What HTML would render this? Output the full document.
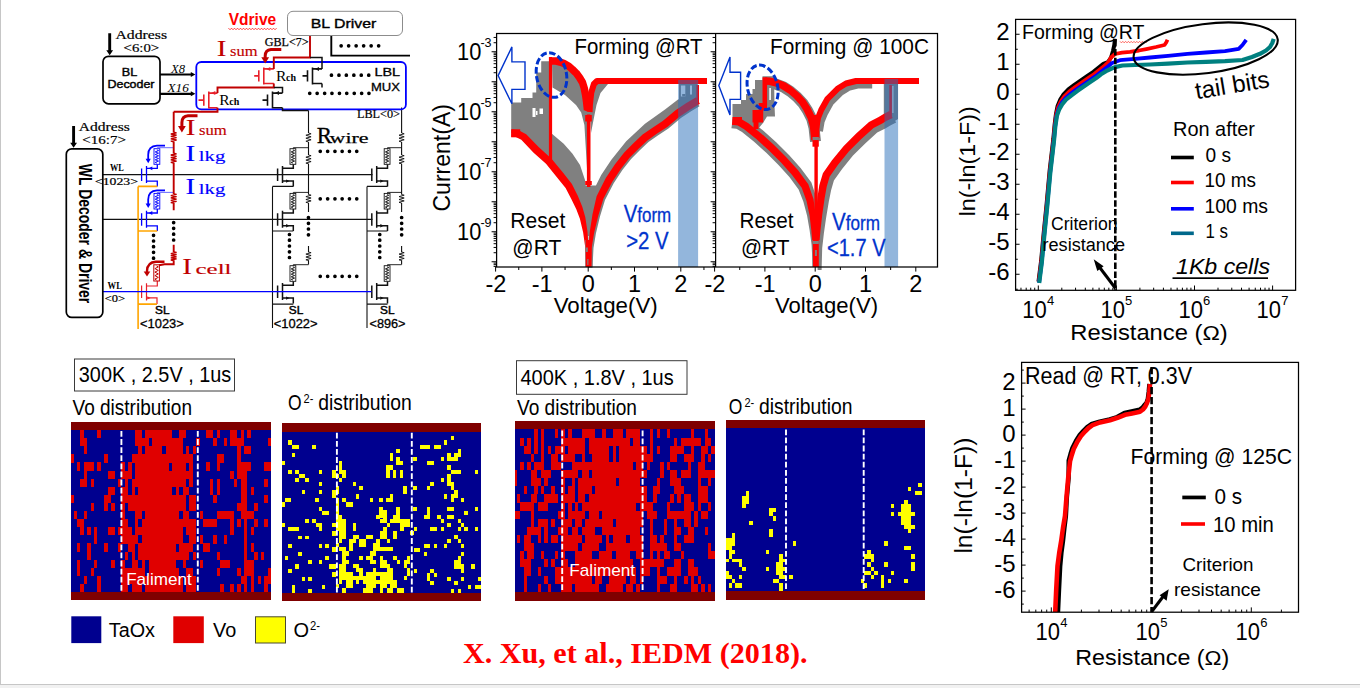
<!DOCTYPE html>
<html lang="en"><head><meta charset="utf-8"><title>RRAM forming - X. Xu et al., IEDM 2018</title>
<style>
html,body{margin:0;padding:0;background:#fff;}
body{width:1360px;height:688px;overflow:hidden;position:relative;}
svg{position:absolute;left:0;top:0;display:block;}
text{font-family:"Liberation Sans", Arial, sans-serif;}
text.sf{font-family:"Liberation Serif", "Times New Roman", serif;}
</style></head><body>
<svg width="1360" height="688" viewBox="0 0 1360 688">
<rect x="0" y="0" width="1360" height="688" fill="#fff"/>
<rect x="0" y="685" width="1360" height="3" fill="#f1f1f1"/>
<rect x="0" y="684" width="1360" height="1" fill="#c6c6c6"/>
<rect x="0" y="0" width="1" height="685" fill="#c6c6c6"/>
<g id="circuit" fill="none" stroke-linecap="butt" stroke-linejoin="miter">
<path d="M103,174.6H372.5M103,219.3H372.5" stroke="#111" stroke-width="1.25"/>
<path d="M141.6,168.6V181.1M146.5,166.0V183.1M146.5,168.29999999999998H157.3V164.29999999999998M146.5,181.1H157.3V186.4" stroke="#0000ff" stroke-width="1.3"/>
<path d="M148.7,168.29999999999998l3.6,-1.9v3.8z" fill="#0000ff" stroke="none"/>
<rect x="154.0" y="148.7" width="5.8" height="15.6" stroke="#0000ff" stroke-width="0.9" fill="#fff"/>
<path d="M156.9,149.9 L158.6,150.6 L155.2,151.9 L158.6,153.2 L155.2,154.5 L158.6,155.8 L155.2,157.2 L158.6,158.5 L155.2,159.8 L158.6,161.1 L155.2,162.4 L156.9,163.1" stroke="#0000ff" stroke-width="0.9"/>
<path d="M157.3,148.7V147.7H173.7" stroke="#5a5aff" stroke-width="0.9"/>
<path d="M141.6,213.3V225.8M146.5,210.70000000000002V227.8M146.5,213.0H157.3V209.0M146.5,225.8H157.3V231.10000000000002" stroke="#0000ff" stroke-width="1.3"/>
<path d="M148.7,213.0l3.6,-1.9v3.8z" fill="#0000ff" stroke="none"/>
<rect x="154.0" y="193.4" width="5.8" height="15.6" stroke="#0000ff" stroke-width="0.9" fill="#fff"/>
<path d="M156.9,194.6 L158.6,195.3 L155.2,196.6 L158.6,197.9 L155.2,199.2 L158.6,200.5 L155.2,201.9 L158.6,203.2 L155.2,204.5 L158.6,205.8 L155.2,207.1 L156.9,207.8" stroke="#0000ff" stroke-width="0.9"/>
<path d="M157.3,193.4V192.4H173.7" stroke="#5a5aff" stroke-width="0.9"/>
<path d="M141.6,285.40000000000003V297.90000000000003M146.5,283.20000000000005V300.40000000000003M146.5,286.0H157.3V281.0M146.5,297.90000000000003H157V304.1" stroke="#e8202a" stroke-width="1.2"/>
<path d="M150.5,297.90000000000003l-3.2,-1.7v3.4z" fill="#e8202a" stroke="none"/>
<rect x="153.8" y="264.8" width="5.6" height="16.2" stroke="#c00000" stroke-width="1" fill="#fff"/>
<path d="M156.6,266.0 L158.3,266.9 L154.9,268.6 L158.3,270.4 L154.9,272.1 L158.3,273.9 L154.9,275.6 L158.3,277.4 L154.9,279.1 L156.6,280.0" stroke="#c00000" stroke-width="1"/>
<path d="M277.6,168.6V181.1M282.5,166.0V183.1M282.5,168.29999999999998H293.3V164.29999999999998M282.5,181.1H293.3V186.4" stroke="#111" stroke-width="1.5"/>
<rect x="290.0" y="148.7" width="5.8" height="15.6" stroke="#111" stroke-width="0.9" fill="#fff"/>
<path d="M292.9,149.9 L294.6,150.6 L291.2,151.9 L294.6,153.2 L291.2,154.5 L294.6,155.8 L291.2,157.2 L294.6,158.5 L291.2,159.8 L294.6,161.1 L291.2,162.4 L292.9,163.1" stroke="#111" stroke-width="0.9"/>
<path d="M293.3,148.7V147.7H308.5" stroke="#111" stroke-width="0.9"/>
<path d="M289.5,181.1l-3.4,-1.7v3.4z" fill="#111" stroke="none"/>
<path d="M277.6,213.3V225.8M282.5,210.70000000000002V227.8M282.5,213.0H293.3V209.0M282.5,225.8H293.3V231.10000000000002" stroke="#111" stroke-width="1.5"/>
<rect x="290.0" y="193.4" width="5.8" height="15.6" stroke="#111" stroke-width="0.9" fill="#fff"/>
<path d="M292.9,194.6 L294.6,195.3 L291.2,196.6 L294.6,197.9 L291.2,199.2 L294.6,200.5 L291.2,201.9 L294.6,203.2 L291.2,204.5 L294.6,205.8 L291.2,207.1 L292.9,207.8" stroke="#111" stroke-width="0.9"/>
<path d="M293.3,193.4V192.4H308.5" stroke="#111" stroke-width="0.9"/>
<path d="M289.5,225.8l-3.4,-1.7v3.4z" fill="#111" stroke="none"/>
<path d="M277.6,285.6V298.1M282.5,283.0V300.1M282.5,285.3H293.3V281.3M282.5,298.1H293.3V303.40000000000003" stroke="#111" stroke-width="1.5"/>
<rect x="290.0" y="265.7" width="5.8" height="15.6" stroke="#111" stroke-width="0.9" fill="#fff"/>
<path d="M292.9,266.9 L294.6,267.6 L291.2,268.9 L294.6,270.2 L291.2,271.5 L294.6,272.8 L291.2,274.2 L294.6,275.5 L291.2,276.8 L294.6,278.1 L291.2,279.4 L292.9,280.1" stroke="#111" stroke-width="0.9"/>
<path d="M293.3,265.70000000000005V264.70000000000005H308.5" stroke="#111" stroke-width="0.9"/>
<path d="M289.5,298.1l-3.4,-1.7v3.4z" fill="#111" stroke="none"/>
<path d="M371.79999999999995,168.6V181.1M376.7,166.0V183.1M376.7,168.29999999999998H387.5V164.29999999999998M376.7,181.1H387.5V186.4" stroke="#111" stroke-width="1.5"/>
<rect x="384.2" y="148.7" width="5.8" height="15.6" stroke="#111" stroke-width="0.9" fill="#fff"/>
<path d="M387.1,149.9 L388.8,150.6 L385.4,151.9 L388.8,153.2 L385.4,154.5 L388.8,155.8 L385.4,157.2 L388.8,158.5 L385.4,159.8 L388.8,161.1 L385.4,162.4 L387.1,163.1" stroke="#111" stroke-width="0.9"/>
<path d="M387.5,148.7V147.7H401.6" stroke="#111" stroke-width="0.9"/>
<path d="M383.7,181.1l-3.4,-1.7v3.4z" fill="#111" stroke="none"/>
<path d="M371.79999999999995,213.3V225.8M376.7,210.70000000000002V227.8M376.7,213.0H387.5V209.0M376.7,225.8H387.5V231.10000000000002" stroke="#111" stroke-width="1.5"/>
<rect x="384.2" y="193.4" width="5.8" height="15.6" stroke="#111" stroke-width="0.9" fill="#fff"/>
<path d="M387.1,194.6 L388.8,195.3 L385.4,196.6 L388.8,197.9 L385.4,199.2 L388.8,200.5 L385.4,201.9 L388.8,203.2 L385.4,204.5 L388.8,205.8 L385.4,207.1 L387.1,207.8" stroke="#111" stroke-width="0.9"/>
<path d="M387.5,193.4V192.4H401.6" stroke="#111" stroke-width="0.9"/>
<path d="M383.7,225.8l-3.4,-1.7v3.4z" fill="#111" stroke="none"/>
<path d="M371.79999999999995,285.6V298.1M376.7,283.0V300.1M376.7,285.3H387.5V281.3M376.7,298.1H387.5V303.40000000000003" stroke="#111" stroke-width="1.5"/>
<rect x="384.2" y="265.7" width="5.8" height="15.6" stroke="#111" stroke-width="0.9" fill="#fff"/>
<path d="M387.1,266.9 L388.8,267.6 L385.4,268.9 L388.8,270.2 L385.4,271.5 L388.8,272.8 L385.4,274.2 L388.8,275.5 L385.4,276.8 L388.8,278.1 L385.4,279.4 L387.1,280.1" stroke="#111" stroke-width="0.9"/>
<path d="M387.5,265.70000000000005V264.70000000000005H401.6" stroke="#111" stroke-width="0.9"/>
<path d="M383.7,298.1l-3.4,-1.7v3.4z" fill="#111" stroke="none"/>
<path d="M138.1,186.4V329M138.1,186.4H157.3M138.1,231H157.3M138.1,304.1H157" stroke="#ffa500" stroke-width="1.6"/>
<path d="M272.5,186.4V328M272.5,186.4H293.3M272.5,231H293.3M272.5,304.1H293.3M367,186.4V328M367,186.4H387.5M367,231H387.5M367,304.1H387.5" stroke="#111" stroke-width="1.1"/>
<path d="M173.7,111.8V132.5M173.7,141.5V153.5M173.7,162.8V194M173.7,203V210.3M173.7,244.8V252.3M173.7,260.3V264.2H164.5L159,265.2" stroke="#c00000" stroke-width="1.9"/>
<path d="M173.7,132.2 L176.6,132.8 L170.8,134.0 L176.6,135.2 L170.8,136.4 L176.6,137.6 L170.8,138.8 L176.6,140.0 L170.8,141.2 L173.7,141.8" stroke="#c00000" stroke-width="1.3"/>
<path d="M173.7,153.2 L176.6,153.8 L170.8,155.0 L176.6,156.3 L170.8,157.5 L176.6,158.7 L170.8,159.9 L176.6,161.2 L170.8,162.4 L173.7,163.0" stroke="#c00000" stroke-width="1.3"/>
<path d="M173.7,193.8 L176.6,194.4 L170.8,195.6 L176.6,196.7 L170.8,197.9 L176.6,199.1 L170.8,200.3 L176.6,201.4 L170.8,202.6 L173.7,203.2" stroke="#c00000" stroke-width="1.3"/>
<path d="M173.7,252.0 L176.6,252.5 L170.8,253.6 L176.6,254.7 L170.8,255.7 L176.6,256.8 L170.8,257.8 L176.6,258.9 L170.8,260.0 L173.7,260.5" stroke="#c00000" stroke-width="1.3"/>
<path d="M308.5,110.6V133M308.5,142V155M308.5,163.8V194.5M308.5,203V212M308.5,246V252.3M308.5,260.3V264.5" stroke="#111" stroke-width="1.1"/>
<path d="M308.5,133.0 L311.1,133.8 L305.9,135.2 L311.1,136.8 L305.9,138.2 L311.1,139.8 L305.9,141.2 L308.5,142.0" stroke="#111" stroke-width="0.9"/>
<path d="M308.5,155.0 L311.1,155.7 L305.9,157.2 L311.1,158.7 L305.9,160.1 L311.1,161.6 L305.9,163.1 L308.5,163.8" stroke="#111" stroke-width="0.9"/>
<path d="M308.5,194.5 L311.1,195.2 L305.9,196.6 L311.1,198.0 L305.9,199.5 L311.1,200.9 L305.9,202.3 L308.5,203.0" stroke="#111" stroke-width="0.9"/>
<path d="M308.5,252.0 L311.1,252.7 L305.9,254.1 L311.1,255.5 L305.9,257.0 L311.1,258.4 L305.9,259.8 L308.5,260.5" stroke="#111" stroke-width="0.9"/>
<path d="M401.6,107.5V133M401.6,142V155M401.6,163.8V194.5M401.6,203V212M401.6,246V252.3M401.6,260.3V264.5" stroke="#111" stroke-width="1.1"/>
<path d="M401.6,133.0 L404.2,133.8 L399.0,135.2 L404.2,136.8 L399.0,138.2 L404.2,139.8 L399.0,141.2 L401.6,142.0" stroke="#111" stroke-width="0.9"/>
<path d="M401.6,155.0 L404.2,155.7 L399.0,157.2 L404.2,158.7 L399.0,160.1 L404.2,161.6 L399.0,163.1 L401.6,163.8" stroke="#111" stroke-width="0.9"/>
<path d="M401.6,194.5 L404.2,195.2 L399.0,196.6 L404.2,198.0 L399.0,199.5 L404.2,200.9 L399.0,202.3 L401.6,203.0" stroke="#111" stroke-width="0.9"/>
<path d="M401.6,252.0 L404.2,252.7 L399.0,254.1 L404.2,255.5 L399.0,257.0 L404.2,258.4 L399.0,259.8 L401.6,260.5" stroke="#111" stroke-width="0.9"/>
<path d="M103,291.6H371.5" stroke="#0000ff" stroke-width="1.4"/>
<path d="M151.7,241.0a1.85,1.85 0 1,0 3.7,0a1.85,1.85 0 1,0 -3.7,0M151.7,246.7a1.85,1.85 0 1,0 3.7,0a1.85,1.85 0 1,0 -3.7,0M151.7,252.3a1.85,1.85 0 1,0 3.7,0a1.85,1.85 0 1,0 -3.7,0M151.7,258.2a1.85,1.85 0 1,0 3.7,0a1.85,1.85 0 1,0 -3.7,0M151.7,235.3a1.85,1.85 0 1,0 3.7,0a1.85,1.85 0 1,0 -3.7,0M171.8,222.6a1.85,1.85 0 1,0 3.7,0a1.85,1.85 0 1,0 -3.7,0M171.8,228.3a1.85,1.85 0 1,0 3.7,0a1.85,1.85 0 1,0 -3.7,0M171.8,234.2a1.85,1.85 0 1,0 3.7,0a1.85,1.85 0 1,0 -3.7,0M171.8,240.0a1.85,1.85 0 1,0 3.7,0a1.85,1.85 0 1,0 -3.7,0M287.6,234.5a1.85,1.85 0 1,0 3.7,0a1.85,1.85 0 1,0 -3.7,0M287.6,240.2a1.85,1.85 0 1,0 3.7,0a1.85,1.85 0 1,0 -3.7,0M287.6,246.0a1.85,1.85 0 1,0 3.7,0a1.85,1.85 0 1,0 -3.7,0M287.6,251.8a1.85,1.85 0 1,0 3.7,0a1.85,1.85 0 1,0 -3.7,0M287.6,257.5a1.85,1.85 0 1,0 3.7,0a1.85,1.85 0 1,0 -3.7,0M306.6,217.5a1.85,1.85 0 1,0 3.7,0a1.85,1.85 0 1,0 -3.7,0M306.6,223.3a1.85,1.85 0 1,0 3.7,0a1.85,1.85 0 1,0 -3.7,0M306.6,229.0a1.85,1.85 0 1,0 3.7,0a1.85,1.85 0 1,0 -3.7,0M306.6,234.8a1.85,1.85 0 1,0 3.7,0a1.85,1.85 0 1,0 -3.7,0M377.9,234.5a1.85,1.85 0 1,0 3.7,0a1.85,1.85 0 1,0 -3.7,0M377.9,240.2a1.85,1.85 0 1,0 3.7,0a1.85,1.85 0 1,0 -3.7,0M377.9,246.0a1.85,1.85 0 1,0 3.7,0a1.85,1.85 0 1,0 -3.7,0M377.9,251.8a1.85,1.85 0 1,0 3.7,0a1.85,1.85 0 1,0 -3.7,0M377.9,257.5a1.85,1.85 0 1,0 3.7,0a1.85,1.85 0 1,0 -3.7,0M399.8,217.5a1.85,1.85 0 1,0 3.7,0a1.85,1.85 0 1,0 -3.7,0M399.8,223.3a1.85,1.85 0 1,0 3.7,0a1.85,1.85 0 1,0 -3.7,0M399.8,229.0a1.85,1.85 0 1,0 3.7,0a1.85,1.85 0 1,0 -3.7,0M399.8,234.8a1.85,1.85 0 1,0 3.7,0a1.85,1.85 0 1,0 -3.7,0M339.3,45.8a1.85,1.85 0 1,0 3.7,0a1.85,1.85 0 1,0 -3.7,0M346.8,45.8a1.85,1.85 0 1,0 3.7,0a1.85,1.85 0 1,0 -3.7,0M354.3,45.8a1.85,1.85 0 1,0 3.7,0a1.85,1.85 0 1,0 -3.7,0M361.8,45.8a1.85,1.85 0 1,0 3.7,0a1.85,1.85 0 1,0 -3.7,0M369.3,45.8a1.85,1.85 0 1,0 3.7,0a1.85,1.85 0 1,0 -3.7,0M376.8,45.8a1.85,1.85 0 1,0 3.7,0a1.85,1.85 0 1,0 -3.7,0M329.6,75.2a1.85,1.85 0 1,0 3.7,0a1.85,1.85 0 1,0 -3.7,0M337.1,75.2a1.85,1.85 0 1,0 3.7,0a1.85,1.85 0 1,0 -3.7,0M344.5,75.2a1.85,1.85 0 1,0 3.7,0a1.85,1.85 0 1,0 -3.7,0M352.0,75.2a1.85,1.85 0 1,0 3.7,0a1.85,1.85 0 1,0 -3.7,0M359.4,75.2a1.85,1.85 0 1,0 3.7,0a1.85,1.85 0 1,0 -3.7,0M366.9,75.2a1.85,1.85 0 1,0 3.7,0a1.85,1.85 0 1,0 -3.7,0M307.9,93.3a1.85,1.85 0 1,0 3.7,0a1.85,1.85 0 1,0 -3.7,0M315.3,93.3a1.85,1.85 0 1,0 3.7,0a1.85,1.85 0 1,0 -3.7,0M322.8,93.3a1.85,1.85 0 1,0 3.7,0a1.85,1.85 0 1,0 -3.7,0M330.1,93.3a1.85,1.85 0 1,0 3.7,0a1.85,1.85 0 1,0 -3.7,0M337.6,93.3a1.85,1.85 0 1,0 3.7,0a1.85,1.85 0 1,0 -3.7,0M344.9,93.3a1.85,1.85 0 1,0 3.7,0a1.85,1.85 0 1,0 -3.7,0M352.4,93.3a1.85,1.85 0 1,0 3.7,0a1.85,1.85 0 1,0 -3.7,0M359.8,93.3a1.85,1.85 0 1,0 3.7,0a1.85,1.85 0 1,0 -3.7,0M367.1,93.3a1.85,1.85 0 1,0 3.7,0a1.85,1.85 0 1,0 -3.7,0M318.4,151.3a1.85,1.85 0 1,0 3.7,0a1.85,1.85 0 1,0 -3.7,0M325.8,151.3a1.85,1.85 0 1,0 3.7,0a1.85,1.85 0 1,0 -3.7,0M333.1,151.3a1.85,1.85 0 1,0 3.7,0a1.85,1.85 0 1,0 -3.7,0M340.3,151.3a1.85,1.85 0 1,0 3.7,0a1.85,1.85 0 1,0 -3.7,0M347.6,151.3a1.85,1.85 0 1,0 3.7,0a1.85,1.85 0 1,0 -3.7,0M354.9,151.3a1.85,1.85 0 1,0 3.7,0a1.85,1.85 0 1,0 -3.7,0M318.4,198.8a1.85,1.85 0 1,0 3.7,0a1.85,1.85 0 1,0 -3.7,0M325.8,198.8a1.85,1.85 0 1,0 3.7,0a1.85,1.85 0 1,0 -3.7,0M333.1,198.8a1.85,1.85 0 1,0 3.7,0a1.85,1.85 0 1,0 -3.7,0M340.3,198.8a1.85,1.85 0 1,0 3.7,0a1.85,1.85 0 1,0 -3.7,0M347.6,198.8a1.85,1.85 0 1,0 3.7,0a1.85,1.85 0 1,0 -3.7,0M354.9,198.8a1.85,1.85 0 1,0 3.7,0a1.85,1.85 0 1,0 -3.7,0M318.4,276.3a1.85,1.85 0 1,0 3.7,0a1.85,1.85 0 1,0 -3.7,0M325.8,276.3a1.85,1.85 0 1,0 3.7,0a1.85,1.85 0 1,0 -3.7,0M333.1,276.3a1.85,1.85 0 1,0 3.7,0a1.85,1.85 0 1,0 -3.7,0M340.3,276.3a1.85,1.85 0 1,0 3.7,0a1.85,1.85 0 1,0 -3.7,0M347.6,276.3a1.85,1.85 0 1,0 3.7,0a1.85,1.85 0 1,0 -3.7,0M354.9,276.3a1.85,1.85 0 1,0 3.7,0a1.85,1.85 0 1,0 -3.7,0" fill="#000" stroke="none"/>
<rect x="196.3" y="62" width="209.6" height="47.4" rx="5" ry="5" stroke="#0000ff" stroke-width="1.8"/>
<path d="M254.2,75.9H258.8M258.8,70.30000000000001V81.5M263.8,67.4V84.4M263.8,68.9H273.8M263.8,83.5H273.8" stroke="#e8202a" stroke-width="1.6"/>
<path d="M198.5,100.1H203.8M203.8,94.5V105.69999999999999M208.8,91.6V108.6M208.8,93.1H217.5M208.8,107.69999999999999H217.5" stroke="#e8202a" stroke-width="1.6"/>
<path d="M266.3,68.9l4,-2v4z" fill="#e8202a" stroke="none"/>
<path d="M211.3,93.1l4,-2v4z" fill="#e8202a" stroke="none"/>
<path d="M302.5,75.9H307.5M307.5,70.30000000000001V81.5M312.5,67.4V84.4M312.5,68.9H322M312.5,83.5H322" stroke="#111" stroke-width="1.6"/>
<path d="M262.5,100.1H267.5M267.5,94.5V105.69999999999999M272.5,91.6V108.6M272.5,93.1H282.5M272.5,107.69999999999999H282.5" stroke="#111" stroke-width="1.6"/>
<path d="M315,68.9l4,-2v4z" fill="#111" stroke="none"/>
<path d="M275,93.1l4,-2v4z" fill="#111" stroke="none"/>
<path d="M310,35.5V57.5H273.8V68.9M273.8,83.5V87.5H217.5V93.1M217.5,107.7V111.8H173.7" stroke="#c00000" stroke-width="1.9"/>
<path d="M310,57.5H322V68.9M322,83.5V87.5M273.8,87.5H282.5V93.1M282.5,107.7V110.6H308.5" stroke="#111" stroke-width="1.5"/>
<path d="M331.3,35.5V55.6H410" stroke="#000" stroke-width="1.9"/>
<rect x="103" y="56.3" width="57" height="47.5" rx="5.5" ry="5.5" stroke="#000" stroke-width="1.7" fill="#fff"/>
<rect x="66.3" y="148.8" width="36.5" height="168.6" rx="5.5" ry="5.5" stroke="#000" stroke-width="1.7" fill="#fff"/>
<rect x="287.5" y="11.3" width="115" height="24.2" rx="5.5" ry="5.5" stroke="#8c8c8c" stroke-width="1" fill="#fff"/>
<path d="M109.7,33.3V51M73.6,126V143.5" stroke="#000" stroke-width="2.9"/>
<path d="M106.3,50.2h6.8l-3.4,5zM70.2,142.7h6.8l-3.4,5z" fill="#000" stroke="none"/>
<path d="M160,74.5H191.5M160,93.8H191.5" stroke="#000" stroke-width="2.2"/>
<path d="M190.8,72l4.6,2.5l-4.6,2.5zM190.8,91.3l4.6,2.5l-4.6,2.5z" fill="#000" stroke="none"/>
<path d="M281.3,49.5H271Q265.3,49.8 265.2,56V58.5" stroke="#c00000" stroke-width="3"/>
<path d="M261.3,57.3h7.8l-3.9,6.2z" fill="#c00000" stroke="none"/>
<path d="M197.5,115.7H188Q182,116 181.9,122.5V127" stroke="#c00000" stroke-width="3"/>
<path d="M178,126h7.8l-3.9,6.5z" fill="#c00000" stroke="none"/>
<path d="M164.5,261.7H156Q147.2,262.2 147,271V272.5" stroke="#c00000" stroke-width="2.4"/>
<path d="M143.7,271.5h6.6l-3.3,5z" fill="#c00000" stroke="none"/>
<path d="M165,145.7H157Q148.3,146.2 148.2,154.7V159.7" stroke="#0000ff" stroke-width="1.8"/>
<path d="M145.6,158.7h5.2l-2.6,4.6z" fill="#0000ff" stroke="none"/>
<path d="M165,190.4H157Q148.3,190.9 148.2,199.4V204.4" stroke="#0000ff" stroke-width="1.8"/>
<path d="M145.6,203.4h5.2l-2.6,4.6z" fill="#0000ff" stroke="none"/>
</g>
<text x="228.7" y="25" font-size="16" fill="#ff0000" font-weight="bold" textLength="47.5" lengthAdjust="spacingAndGlyphs">Vdrive</text>
<path d="M228.5,28.2 l1.5,1.5 l1.5,-1.5 l1.5,1.5 l1.5,-1.5 l1.5,1.5 l1.5,-1.5 l1.5,1.5 l1.5,-1.5 l1.5,1.5 l1.5,-1.5 l1.5,1.5 l1.5,-1.5 l1.5,1.5 l1.5,-1.5 l1.5,1.5 l1.5,-1.5 l1.5,1.5 l1.5,-1.5 l1.5,1.5 l1.5,-1.5 l1.5,1.5 l1.5,-1.5 l1.5,1.5 l1.5,-1.5 l1.5,1.5 l1.5,-1.5 l1.5,1.5 l1.5,-1.5 l1.5,1.5 l1.5,-1.5 l1.5,1.5 l1.5,-1.5" fill="none" stroke="#ff2020" stroke-width="0.9"/>
<text x="310.8" y="27.6" font-size="12.5" textLength="65.5" lengthAdjust="spacingAndGlyphs" stroke="#000" stroke-width="0.35">BL Driver</text>
<text x="115.5" y="38.8" font-size="12" class="sf" textLength="51.5" lengthAdjust="spacingAndGlyphs" stroke="#000" stroke-width="0.2">Address</text>
<text x="123.6" y="52" font-size="13" class="sf" textLength="35.6" lengthAdjust="spacingAndGlyphs" stroke="#000" stroke-width="0.2">&lt;6:0&gt;</text>
<text x="129.6" y="75.6" font-size="11" text-anchor="middle" textLength="15.5" lengthAdjust="spacingAndGlyphs" stroke="#000" stroke-width="0.4">BL</text>
<text x="131" y="87.6" font-size="11" text-anchor="middle" textLength="47" lengthAdjust="spacingAndGlyphs" stroke="#000" stroke-width="0.4">Decoder</text>
<text x="171" y="73" font-size="11.5" class="sf" font-style="italic" textLength="14" lengthAdjust="spacingAndGlyphs">X8</text>
<text x="167.5" y="92" font-size="11.5" class="sf" font-style="italic" textLength="21.3" lengthAdjust="spacingAndGlyphs">X16</text>
<text x="264.8" y="45.6" font-size="12.5" class="sf" textLength="43.8" lengthAdjust="spacingAndGlyphs" stroke="#000" stroke-width="0.25">GBL&lt;7&gt;</text>
<text x="357" y="117.6" font-size="11.5" class="sf" textLength="43" lengthAdjust="spacingAndGlyphs" stroke="#000" stroke-width="0.2">LBL&lt;0&gt;</text>
<text x="374.4" y="75.7" font-size="11.5" textLength="25.6" lengthAdjust="spacingAndGlyphs" stroke="#000" stroke-width="0.3">LBL</text>
<text x="371" y="90.6" font-size="11.5" textLength="29" lengthAdjust="spacingAndGlyphs" stroke="#000" stroke-width="0.3">MUX</text>
<text x="276" y="80.8" class="sf" font-size="15.5">R<tspan font-size="10" font-weight="bold" dx="-0.4">ch</tspan></text>
<text x="219.3" y="104.8" class="sf" font-size="15.5">R<tspan font-size="10" font-weight="bold" dx="-0.4">ch</tspan></text>
<text fill="#c00000" class="sf"><tspan x="216.6" y="56.3" font-size="23.5" textLength="10.2" lengthAdjust="spacingAndGlyphs">I</tspan><tspan x="230.1" y="56.3" font-size="15.5" textLength="27.5" lengthAdjust="spacingAndGlyphs" stroke="#c00000" stroke-width="0.15">sum</tspan></text>
<text fill="#c00000" class="sf"><tspan x="185.5" y="134.7" font-size="23.5" textLength="10.2" lengthAdjust="spacingAndGlyphs">I</tspan><tspan x="199.0" y="134.7" font-size="15.5" textLength="27.8" lengthAdjust="spacingAndGlyphs" stroke="#c00000" stroke-width="0.15">sum</tspan></text>
<text fill="#0000ff" class="sf"><tspan x="185.3" y="160.5" font-size="23.5" textLength="10.2" lengthAdjust="spacingAndGlyphs">I</tspan><tspan x="198.8" y="160.5" font-size="15.5" textLength="26.5" lengthAdjust="spacingAndGlyphs" stroke="#0000ff" stroke-width="0.15">lkg</tspan></text>
<text fill="#0000ff" class="sf"><tspan x="185.3" y="194" font-size="23.5" textLength="10.2" lengthAdjust="spacingAndGlyphs">I</tspan><tspan x="198.8" y="194" font-size="15.5" textLength="26.5" lengthAdjust="spacingAndGlyphs" stroke="#0000ff" stroke-width="0.15">lkg</tspan></text>
<text fill="#c00000" class="sf"><tspan x="182" y="273.5" font-size="23.5" textLength="10.2" lengthAdjust="spacingAndGlyphs">I</tspan><tspan x="195.5" y="273.5" font-size="15.5" textLength="36" lengthAdjust="spacingAndGlyphs" stroke="#c00000" stroke-width="0.15">cell</tspan></text>
<text class="sf"><tspan x="316.8" y="143" font-size="23" stroke="#000" stroke-width="0.3">R</tspan><tspan x="329.6" y="143" font-size="15" textLength="39" lengthAdjust="spacingAndGlyphs" stroke="#000" stroke-width="0.25">wire</tspan></text>
<text x="78.8" y="130.5" font-size="12" class="sf" textLength="51" lengthAdjust="spacingAndGlyphs" stroke="#000" stroke-width="0.2">Address</text>
<text x="82.3" y="143.6" font-size="13" class="sf" textLength="43.6" lengthAdjust="spacingAndGlyphs" stroke="#000" stroke-width="0.2">&lt;16:7&gt;</text>
<text x="110" y="171.3" font-size="11" class="sf" font-weight="bold" textLength="13.8" lengthAdjust="spacingAndGlyphs">WL</text>
<text x="95" y="185" font-size="11" class="sf" textLength="43" lengthAdjust="spacingAndGlyphs" stroke="#000" stroke-width="0.2">&lt;1023&gt;</text>
<text x="107.6" y="289.1" font-size="11" class="sf" font-weight="bold" textLength="14.3" lengthAdjust="spacingAndGlyphs">WL</text>
<text x="104.8" y="302.3" font-size="11" class="sf" textLength="20.3" lengthAdjust="spacingAndGlyphs" stroke="#000" stroke-width="0.2">&lt;0&gt;</text>
<text x="79.3" y="163.8" font-size="17.5" font-weight="bold" textLength="139.5" lengthAdjust="spacingAndGlyphs" transform="rotate(90 79.3 163.8)">WL Decoder &amp; Driver</text>
<text x="155" y="314.1" font-size="11.5" textLength="14.5" lengthAdjust="spacingAndGlyphs" stroke="#000" stroke-width="0.45">SL</text>
<text x="140" y="327.7" font-size="12" textLength="43.8" lengthAdjust="spacingAndGlyphs" stroke="#000" stroke-width="0.3">&lt;1023&gt;</text>
<text x="288.8" y="314.1" font-size="11.5" textLength="14.5" lengthAdjust="spacingAndGlyphs" stroke="#000" stroke-width="0.45">SL</text>
<text x="273.8" y="327.7" font-size="12" textLength="43.8" lengthAdjust="spacingAndGlyphs" stroke="#000" stroke-width="0.3">&lt;1022&gt;</text>
<text x="380" y="314.1" font-size="11.5" textLength="14.5" lengthAdjust="spacingAndGlyphs" stroke="#000" stroke-width="0.45">SL</text>
<text x="369.5" y="327.7" font-size="12" textLength="36" lengthAdjust="spacingAndGlyphs" stroke="#000" stroke-width="0.3">&lt;896&gt;</text>
<g id="iv">
<g stroke-linejoin="round" stroke-linecap="butt">
<path d="M511.2,133.0 L511.2,102.5 L521.2,102.5 L521.2,98.0 L532.5,98.0 L532.5,92.5 L536.2,92.5 L536.2,72.5 L541.2,72.5 L541.2,61.2 L550.0,61.2 L550.0,161.0 L536.2,148.0 L523.7,136.0 Z" fill="#808080" />
<rect x="532.5" y="108" width="3" height="9" fill="#fff"/>
<rect x="539.5" y="108.5" width="3.5" height="5.5" fill="#fff"/>
<rect x="536" y="111" width="1.5" height="4" fill="#fff"/>
<path d="M550.6,61.0 L556.0,61.0 L560.0,62.0 L564.0,63.5 L568.8,66.2 L572.5,69.5 L576.2,73.1 L579.5,77.5 L582.5,82.5 L584.2,88.0 L585.6,95.0 L586.6,102.0 L587.5,110.0 L588.0,185.0 L585.6,145.0 L584.4,125.0 L581.2,112.5 L576.0,105.0 L565.0,95.0 L552.5,87.5 L552.0,61.0 Z" fill="#808080" />
<path d="M551.9,133.7 L563.7,143.7 L572.5,153.7 L580.0,165.0 L585.0,180.0 L587.0,200.0 L588.5,245.0 L586.0,235.0 L580.0,208.0 L568.7,186.0 L560.0,175.0 L551.9,161.0 Z" fill="#808080" />
<path d="M589.0,245.0 L589.3,240.0 L590.5,215.0 L593.0,200.0 L596.2,185.0 L601.2,175.0 L611.2,160.0 L626.2,141.2 L645.0,123.7 L665.0,109.4 L678.0,99.5 L697.0,94.0 L698.0,100.5 L688.0,106.5 L677.5,113.5 L665.0,124.0 L655.0,130.5 L645.0,137.5 L636.0,146.0 L627.0,155.0 L618.0,166.5 L609.0,180.0 L600.0,197.5 L595.4,215.0 L592.0,232.0 L590.2,247.0 L589.8,267.0 Z" fill="#808080" />
<path d="M592.5,267.8 L593.5,248.0 L595.9,233.4 L599.9,216.7 L605.0,200.0 L613.7,183.2 L622.4,170.1 L631.1,159.0 L639.8,150.2 L648.5,142.0 L658.2,135.3 L668.4,128.6 L680.9,118.1 L691.1,111.3 L699.5,106.2 L694.5,98.0 L685.9,103.3 L675.1,110.5 L662.6,121.0 L652.8,127.3 L642.5,134.6 L633.2,143.4 L623.9,152.6 L614.6,164.5 L605.3,178.4 L596.0,196.6 L591.9,214.9 L589.1,232.2 L587.9,247.6 L588.1,267.8 Z" fill="#808080" />
<path d="M594.0,84.0 L608.0,84.0 L600.5,93.0 L596.5,105.0 L593.5,120.0 L591.0,133.0 L590.0,110.0 L591.5,95.0 Z" fill="#808080" />
<path d="M679.0,84.0 L697.5,84.0 L697.5,101.0 L679.0,99.0 Z" fill="#808080" />
<rect x="680.9" y="85.5" width="4.4" height="11" fill="#fff"/>
<rect x="682.2" y="94" width="3.1" height="2.5" fill="#808080"/>
<rect x="690" y="85.5" width="2" height="9" fill="#fff"/>
<path d="M572.0,185.5 L603.0,185.5 L594.0,215.0 L591.0,236.0 L586.0,236.0 L583.0,215.0 Z" fill="#808080" />
<path d="M511.2,136.7 L515.8,137.1 L521.3,139.8 L533.6,152.7 L546.0,163.8 L557.1,177.4 L565.6,188.0 L571.3,199.1 L576.3,209.2 L579.9,218.7 L583.1,232.3 L585.2,247.1 L585.7,267.0 L588.5,267.0 L588.4,246.9 L587.5,231.7 L585.3,217.3 L582.3,206.8 L577.9,195.9 L571.9,184.0 L562.9,172.6 L551.5,158.7 L538.9,147.3 L526.2,134.2 L518.2,129.9 L511.8,129.3 Z" fill="#ff0000" />
<rect x="511.2" y="129.3" width="9" height="8" fill="#ff0000"/>
<rect x="548.9" y="57" width="3.2" height="104" fill="#ff0000"/>
<path d="M550.6,61.0 L556.0,61.0 L560.0,62.0 L564.0,63.5 L568.8,66.2 L572.5,69.5 L576.2,73.1 L579.5,77.5 L582.5,82.5 L584.2,88.0 L585.6,95.0 L586.6,102.0 L587.5,110.0" fill="none" stroke="#ff0000" stroke-width="7.5" />
<rect x="586.9" y="100" width="3.6" height="87" fill="#ff0000"/>
<rect x="585.2" y="100" width="6.6" height="11" fill="#ff0000"/>
<rect x="585.2" y="115" width="6.6" height="6.5" fill="#ff0000"/>
<rect x="585.2" y="181" width="6.6" height="4" fill="#ff0000"/>
<rect x="585.4" y="111" width="6" height="3.5" fill="#808080"/>
<rect x="585.3" y="240" width="7.2" height="27" fill="#808080"/>
<rect x="585.8" y="240" width="5.6" height="27" fill="#ff0000"/>
<rect x="585.8" y="247.5" width="2" height="4.5" fill="#808080"/>
<rect x="589.4" y="247.5" width="2" height="4.5" fill="#808080"/>
<rect x="587.3" y="259" width="2.2" height="6" fill="#808080"/>
<path d="M589.6,112.0 L589.9,105.0 L591.3,92.5 L593.9,84.0 L597.0,81.0 L707.0,81.0" fill="none" stroke="#ff0000" stroke-width="6" />
<path d="M591.2,267.0 L591.8,247.1 L594.2,232.4 L598.3,215.7 L603.4,198.8 L612.2,181.9 L621.0,168.7 L629.8,157.5 L638.6,148.7 L647.4,140.4 L657.1,133.6 L667.3,127.0 L679.8,116.5 L690.0,109.7 L699.9,103.7 L696.1,97.3 L686.0,103.3 L675.2,110.5 L662.7,121.0 L652.9,127.4 L642.6,134.6 L633.4,143.3 L624.2,152.5 L615.0,164.3 L605.8,178.1 L596.6,196.2 L592.5,214.3 L589.8,231.6 L588.6,246.9 L588.4,267.0 Z" fill="#ff0000" />
<rect x="696.4" y="85" width="2.6" height="19" fill="#ff0000"/>
</g>
<rect x="678.1" y="80" width="20" height="187" fill="#286eb9" fill-opacity="0.5"/>
<g stroke-linejoin="round" stroke-linecap="butt">
<path d="M732.5,121.0 L732.5,104.0 L741.0,104.0 L741.0,100.0 L746.0,100.0 L746.0,94.0 L752.5,94.0 L752.5,89.0 L755.0,89.0 L755.0,80.0 L762.5,80.0 L762.5,76.3 L774.0,76.3 L774.5,105.0 L775.0,116.5 L767.0,116.5 L763.0,123.0 L758.0,129.0 L750.0,128.0 L746.0,126.0 Z" fill="#808080" />
<path d="M765.5,82.5 L770.5,82.8 L775.5,84.0 L783.5,87.0 L790.5,91.5 L797.0,97.0 L803.0,103.5 L807.5,110.5 L811.8,119.0 L814.0,127.5 L815.5,141.5" fill="none" stroke="#808080" stroke-width="11" />
<path d="M731.4,128.2 L736.4,128.8 L742.0,132.1 L754.1,141.8 L766.3,152.8 L778.5,165.0 L789.4,177.1 L798.6,189.5 L803.4,201.7 L807.1,215.7 L809.6,230.3 L811.6,245.1 L812.7,267.0 L816.7,267.0 L817.4,244.9 L818.0,229.7 L818.1,214.3 L816.6,198.3 L811.4,182.5 L800.6,167.9 L789.0,155.0 L776.2,142.2 L763.4,130.7 L750.5,120.4 L741.6,115.2 L733.6,113.8 Z" fill="#808080" />
<path d="M818.5,131.0 L820.2,121.0 L823.5,113.0 L829.7,101.8 L839.7,91.8 L848.2,86.5 L858.2,84.0 L872.2,84.0" fill="none" stroke="#808080" stroke-width="9" />
<path d="M821.6,270.0 L822.2,248.1 L823.9,233.2 L826.0,218.4 L828.8,201.7 L831.1,190.3 L833.9,180.6 L842.1,169.0 L853.0,155.6 L865.2,143.4 L877.2,132.6 L885.3,128.5 L890.3,125.5 L896.1,122.6 L890.9,112.4 L884.7,115.5 L879.7,118.5 L870.3,123.4 L857.3,135.1 L844.5,147.9 L832.9,162.0 L823.6,175.4 L819.9,187.7 L818.2,200.3 L817.4,217.6 L817.1,232.8 L817.4,247.9 L817.6,270.0 Z" fill="#808080" />
<path d="M883.8,84H898V119L890,124L883.8,124Z" fill="#808080"/>
<rect x="892.4" y="86" width="1" height="27" fill="#fff"/>
<path d="M765.0,81.0 L770.0,81.3 L775.0,82.5 L783.0,85.5 L790.0,90.0 L796.5,95.5 L802.5,102.0 L807.0,109.0 L811.2,117.5 L813.5,126.0 L815.0,140.0" fill="none" stroke="#ff0000" stroke-width="7.5" />
<rect x="762.5" y="77.3" width="4.6" height="28" fill="#ff0000"/>
<rect x="758.7" y="103" width="8.3" height="7.5" fill="#ff0000"/>
<rect x="752.5" y="110" width="10.7" height="12.5" fill="#ff0000"/>
<rect x="753.5" y="122" width="5" height="7" fill="#ff0000"/>
<rect x="769.3" y="88" width="1.6" height="12" fill="#fff"/>
<path d="M731.9,124.7 L737.7,125.5 L744.1,129.3 L756.3,139.1 L768.7,150.2 L781.0,162.6 L792.1,174.9 L801.7,187.8 L806.5,200.9 L809.6,215.4 L811.3,230.2 L812.6,245.0 L813.3,267.0 L816.1,267.0 L816.4,245.0 L816.3,229.8 L815.6,214.6 L813.5,199.1 L808.3,184.2 L797.9,170.1 L786.5,157.4 L773.8,144.8 L761.2,133.4 L748.4,123.2 L740.3,118.5 L733.1,117.3 Z" fill="#ff0000" />
<rect x="732.5" y="117" width="9.5" height="8" fill="#ff0000"/>
<path d="M816.3,128.0 L818.0,118.0 L821.2,110.0 L827.5,98.8 L837.5,88.8 L846.0,83.5 L856.0,81.0 L919.0,81.0" fill="none" stroke="#ff0000" stroke-width="6" />
<path d="M818.5,267.0 L819.2,245.0 L820.5,230.2 L822.2,215.3 L824.6,198.5 L826.7,186.8 L829.6,176.7 L838.0,164.8 L849.0,151.3 L861.3,139.0 L873.5,128.0 L881.8,123.8 L886.8,120.8 L892.7,117.9 L889.3,111.1 L883.2,114.2 L878.2,117.2 L869.0,122.0 L856.2,133.5 L843.5,146.2 L832.0,160.2 L822.9,173.3 L819.3,185.2 L817.4,197.5 L816.2,214.7 L815.5,229.8 L815.4,245.0 L815.7,267.0 Z" fill="#ff0000" />
<rect x="814.4" y="115" width="3.4" height="152" fill="#ff0000"/>
<rect x="812" y="115" width="7.4" height="23" fill="#ff0000"/>
<rect x="812.5" y="137" width="6.3" height="3.2" fill="#808080"/>
<rect x="812.5" y="140.2" width="6.3" height="6.5" fill="#ff0000"/>
<rect x="812.4" y="240" width="7.2" height="27" fill="#808080"/>
<rect x="813" y="238" width="5.8" height="29" fill="#ff0000"/>
<rect x="813" y="241" width="5.8" height="3" fill="#808080"/>
<rect x="814.9" y="250" width="2" height="6" fill="#808080"/>
<rect x="889.3" y="85" width="2.6" height="31" fill="#ff0000"/>
</g>
<rect x="884.5" y="79" width="13.6" height="188" fill="#286eb9" fill-opacity="0.5"/>
<path d="M498.1,75.6 L511.9,46.9 V61.9 H525 V89.4 H511.9 V103.7 Z" fill="#fff" stroke="#0033cc" stroke-width="1.4" stroke-linejoin="miter"/>
<path d="M718.8,85.6 L730,56.9 V72.2 H740.6 V99.4 H730 V115 Z" fill="#fff" stroke="#0033cc" stroke-width="1.4" stroke-linejoin="miter"/>
<ellipse cx="551.5" cy="75" rx="15" ry="22.6" fill="none" stroke="#0033cc" stroke-width="3" stroke-dasharray="6.5 2.6" transform="rotate(-11 551.5 75)"/>
<ellipse cx="762.6" cy="87.3" rx="15" ry="22.6" fill="none" stroke="#0033cc" stroke-width="3" stroke-dasharray="6.5 2.6" transform="rotate(-14 762.6 87.3)"/>
<g stroke="#000" fill="none" stroke-width="1.25">
<rect x="496.6" y="33.5" width="440.9" height="233.5"/>
<line x1="715.6" y1="33.5" x2="715.6" y2="267.0"/>
<path stroke-width="1" d="M491.6,51.75H496.6M493.6,42.72H496.6M493.6,37.44H496.6M491.6,81.75H496.6M493.6,72.72H496.6M493.6,67.44H496.6M493.6,63.69H496.6M493.6,60.78H496.6M493.6,58.41H496.6M493.6,56.40H496.6M493.6,54.66H496.6M493.6,53.12H496.6M491.6,111.75H496.6M493.6,102.72H496.6M493.6,97.44H496.6M493.6,93.69H496.6M493.6,90.78H496.6M493.6,88.41H496.6M493.6,86.40H496.6M493.6,84.66H496.6M493.6,83.12H496.6M491.6,141.75H496.6M493.6,132.72H496.6M493.6,127.44H496.6M493.6,123.69H496.6M493.6,120.78H496.6M493.6,118.41H496.6M493.6,116.40H496.6M493.6,114.66H496.6M493.6,113.12H496.6M491.6,171.75H496.6M493.6,162.72H496.6M493.6,157.44H496.6M493.6,153.69H496.6M493.6,150.78H496.6M493.6,148.41H496.6M493.6,146.40H496.6M493.6,144.66H496.6M493.6,143.12H496.6M491.6,201.75H496.6M493.6,192.72H496.6M493.6,187.44H496.6M493.6,183.69H496.6M493.6,180.78H496.6M493.6,178.41H496.6M493.6,176.40H496.6M493.6,174.66H496.6M493.6,173.12H496.6M491.6,231.75H496.6M493.6,222.72H496.6M493.6,217.44H496.6M493.6,213.69H496.6M493.6,210.78H496.6M493.6,208.41H496.6M493.6,206.40H496.6M493.6,204.66H496.6M493.6,203.12H496.6M491.6,261.75H496.6M493.6,252.72H496.6M493.6,247.44H496.6M493.6,243.69H496.6M493.6,240.78H496.6M493.6,238.41H496.6M493.6,236.40H496.6M493.6,234.66H496.6M493.6,233.12H496.6M493.6,266.40H496.6M493.6,264.66H496.6M493.6,263.12H496.6M710.6,51.75H715.6M712.6,42.72H715.6M712.6,37.44H715.6M710.6,81.75H715.6M712.6,72.72H715.6M712.6,67.44H715.6M712.6,63.69H715.6M712.6,60.78H715.6M712.6,58.41H715.6M712.6,56.40H715.6M712.6,54.66H715.6M712.6,53.12H715.6M710.6,111.75H715.6M712.6,102.72H715.6M712.6,97.44H715.6M712.6,93.69H715.6M712.6,90.78H715.6M712.6,88.41H715.6M712.6,86.40H715.6M712.6,84.66H715.6M712.6,83.12H715.6M710.6,141.75H715.6M712.6,132.72H715.6M712.6,127.44H715.6M712.6,123.69H715.6M712.6,120.78H715.6M712.6,118.41H715.6M712.6,116.40H715.6M712.6,114.66H715.6M712.6,113.12H715.6M710.6,171.75H715.6M712.6,162.72H715.6M712.6,157.44H715.6M712.6,153.69H715.6M712.6,150.78H715.6M712.6,148.41H715.6M712.6,146.40H715.6M712.6,144.66H715.6M712.6,143.12H715.6M710.6,201.75H715.6M712.6,192.72H715.6M712.6,187.44H715.6M712.6,183.69H715.6M712.6,180.78H715.6M712.6,178.41H715.6M712.6,176.40H715.6M712.6,174.66H715.6M712.6,173.12H715.6M710.6,231.75H715.6M712.6,222.72H715.6M712.6,217.44H715.6M712.6,213.69H715.6M712.6,210.78H715.6M712.6,208.41H715.6M712.6,206.40H715.6M712.6,204.66H715.6M712.6,203.12H715.6M710.6,261.75H715.6M712.6,252.72H715.6M712.6,247.44H715.6M712.6,243.69H715.6M712.6,240.78H715.6M712.6,238.41H715.6M712.6,236.40H715.6M712.6,234.66H715.6M712.6,233.12H715.6M712.6,266.40H715.6M712.6,264.66H715.6M712.6,263.12H715.6M495.60,267.0v4.6M518.75,267.0v3M541.90,267.0v4.6M565.05,267.0v3M588.20,267.0v4.6M611.35,267.0v3M634.50,267.0v4.6M657.65,267.0v3M680.80,267.0v4.6M703.95,267.0v3M714.60,267.0v4.6M739.75,267.0v3M764.90,267.0v4.6M790.05,267.0v3M815.20,267.0v4.6M840.35,267.0v3M865.50,267.0v4.6M890.65,267.0v3M915.80,267.0v4.6"/>
</g>
<text><tspan x="457" y="60.0" font-size="24" textLength="24.3" lengthAdjust="spacingAndGlyphs">10</tspan><tspan x="480.4" y="47.0" font-size="12.5">-3</tspan></text>
<text><tspan x="457" y="120.0" font-size="24" textLength="24.3" lengthAdjust="spacingAndGlyphs">10</tspan><tspan x="480.4" y="107.0" font-size="12.5">-5</tspan></text>
<text><tspan x="457" y="179.9" font-size="24" textLength="24.3" lengthAdjust="spacingAndGlyphs">10</tspan><tspan x="480.4" y="167.1" font-size="12.5">-7</tspan></text>
<text><tspan x="457" y="239.9" font-size="24" textLength="24.3" lengthAdjust="spacingAndGlyphs">10</tspan><tspan x="480.4" y="227.1" font-size="12.5">-9</tspan></text>
<text x="495.9" y="291.8" font-size="23.5" text-anchor="middle">-2</text>
<text x="714.9" y="291.8" font-size="23.5" text-anchor="middle">-2</text>
<text x="542.2" y="291.8" font-size="23.5" text-anchor="middle">-1</text>
<text x="765.2" y="291.8" font-size="23.5" text-anchor="middle">-1</text>
<text x="588.2" y="291.8" font-size="23.5" text-anchor="middle">0</text>
<text x="815.2" y="291.8" font-size="23.5" text-anchor="middle">0</text>
<text x="634.5" y="291.8" font-size="23.5" text-anchor="middle">1</text>
<text x="865.5" y="291.8" font-size="23.5" text-anchor="middle">1</text>
<text x="680.8" y="291.8" font-size="23.5" text-anchor="middle">2</text>
<text x="915.8" y="291.8" font-size="23.5" text-anchor="middle">2</text>
<text x="553.7" y="312.5" font-size="22.8" textLength="104" lengthAdjust="spacingAndGlyphs">Voltage(V)</text>
<text x="775" y="312.5" font-size="22.8" textLength="103" lengthAdjust="spacingAndGlyphs">Voltage(V)</text>
<text x="450.1" y="157.8" font-size="23.5" text-anchor="middle" textLength="107.5" lengthAdjust="spacingAndGlyphs" transform="rotate(-90 450.1 157.8)">Current(A)</text>
<text x="574.5" y="53.6" font-size="22" textLength="128" lengthAdjust="spacingAndGlyphs">Forming @RT</text>
<text x="770" y="53.6" font-size="22" textLength="159" lengthAdjust="spacingAndGlyphs">Forming @ 100C</text>
<text x="510.3" y="227.6" font-size="22.3" textLength="55" lengthAdjust="spacingAndGlyphs">Reset</text>
<text x="512.3" y="254.6" font-size="22.3" textLength="49" lengthAdjust="spacingAndGlyphs">@RT</text>
<text x="739.5" y="227.6" font-size="22.3" textLength="54" lengthAdjust="spacingAndGlyphs">Reset</text>
<text x="741" y="254.6" font-size="22.3" textLength="48.5" lengthAdjust="spacingAndGlyphs">@RT</text>
<text x="623.7" y="222" font-size="24" fill="#0033cc" stroke="#0033cc" stroke-width="0.3" textLength="47.5" lengthAdjust="spacingAndGlyphs">V<tspan font-size="20">form</tspan></text>
<text x="626.2" y="248.8" font-size="23" fill="#0033cc" textLength="42.5" lengthAdjust="spacingAndGlyphs" stroke="#0033cc" stroke-width="0.3">&gt;2 V</text>
<text x="832" y="229.5" font-size="24" fill="#0033cc" stroke="#0033cc" stroke-width="0.3" textLength="48" lengthAdjust="spacingAndGlyphs">V<tspan font-size="20">form</tspan></text>
<text x="827" y="256" font-size="23" fill="#0033cc" textLength="58.5" lengthAdjust="spacingAndGlyphs" stroke="#0033cc" stroke-width="0.3">&lt;1.7 V</text>
</g>
<g id="dist-top">
<g stroke-linejoin="round" stroke-linecap="butt">
<path d="M1038.5,281.6 L1041.1,261.1 L1043.6,234.1 L1046.6,204.1 L1049.6,171.1 L1053.3,139.1 L1054.6,125.1 L1056.0,113.8 L1057.6,106.0 L1060.1,99.9 L1063.6,94.4 L1068.4,89.4 L1074.4,84.9 L1080.9,80.4 L1087.4,75.9 L1093.4,71.9 L1098.4,67.9 L1103.4,63.9 L1108.0,62.0 L1111.0,57.5 L1113.0,51.0 L1114.3,45.0 L1115.0,38.8" fill="none" stroke="#000" stroke-width="4" />
<path d="M1038.7,282.1 L1041.3,261.6 L1043.8,234.7 L1046.8,204.7 L1049.8,171.7 L1053.5,139.7 L1054.8,125.7 L1056.2,114.5 L1058.1,107.2 L1060.7,101.5 L1064.3,96.3 L1069.2,91.6 L1075.2,87.1 L1081.7,82.6 L1088.2,78.1 L1094.2,74.1 L1099.2,70.1 L1104.2,66.1 L1108.0,62.5 L1111.0,57.5 L1115.0,54.0 L1122.0,52.6 L1130.0,51.8 L1139.0,50.5 L1147.5,48.8 L1156.0,47.0 L1164.5,45.0 L1166.2,42.5 L1167.5,39.8" fill="none" stroke="#ff0000" stroke-width="3.8" />
<path d="M1039.1,282.7 L1041.7,262.2 L1044.2,235.2 L1047.2,205.2 L1050.2,172.2 L1053.9,140.2 L1055.2,126.2 L1056.7,115.2 L1058.8,108.4 L1061.7,103.0 L1065.5,98.1 L1070.6,93.7 L1076.6,89.2 L1083.1,84.7 L1089.6,80.2 L1095.6,76.2 L1100.6,72.2 L1105.6,68.2 L1108.5,66.0 L1112.0,63.0 L1120.0,60.2 L1135.0,58.8 L1150.0,57.5 L1168.0,55.8 L1187.5,53.8 L1206.0,52.5 L1225.0,51.2 L1238.7,48.8 L1242.5,45.0 L1246.2,39.8" fill="none" stroke="#0000ff" stroke-width="3.8" />
<path d="M1039.2,283.1 L1041.8,262.6 L1044.3,235.7 L1047.3,205.7 L1050.3,172.7 L1054.0,140.7 L1055.3,126.7 L1056.9,115.9 L1059.2,109.4 L1062.1,104.4 L1066.0,99.7 L1071.2,95.6 L1077.2,91.1 L1083.7,86.6 L1090.2,82.1 L1096.2,78.1 L1101.0,74.3 L1106.0,71.2 L1110.5,69.0 L1115.0,67.1 L1122.5,65.5 L1135.0,65.0 L1150.0,64.5 L1168.0,63.6 L1187.5,62.5 L1206.0,61.9 L1225.0,61.2 L1242.5,60.0 L1252.0,57.0 L1260.0,53.8 L1266.0,50.5 L1270.0,47.0 L1272.3,43.0 L1273.7,38.8" fill="none" stroke="#008080" stroke-width="4.2" />
</g>
<path d="M1120,41.3 l1.4,1.6 l1.4,-1.6 l1.4,1.6 l1.4,-1.6 l1.4,1.6 l1.4,-1.6 l1.4,1.6 l1.4,-1.6 l1.4,1.6 l1.4,-1.6 l1.4,1.6 l1.4,-1.6 l1.4,1.6 l1.4,-1.6 l1.4,1.6 l1.4,-1.6 l1.4,1.6 l1.4,-1.6 l1.4,1.6" fill="none" stroke="#ff3b30" stroke-width="0.7"/>
<line x1="1115.3" y1="40" x2="1115.3" y2="290.3" stroke="#000" stroke-width="2.6" stroke-dasharray="6.5 2.4"/>
<line x1="1115.6" y1="288.5" x2="1099" y2="266.5" stroke="#000" stroke-width="3"/>
<path d="M1093.7,259.3 L1103.6,266.2 L1097.3,271 Z" fill="#000"/>
<ellipse cx="1205.7" cy="48.6" rx="72.6" ry="24.6" fill="none" stroke="#000" stroke-width="2.1" transform="rotate(-7.3 1205.5 48.6)"/>
<g stroke="#000" fill="none" >
<rect x="1015.6" y="19.4" width="279.9999999999999" height="270.9" stroke-width="1.25"/>
<path stroke-width="1" d="M1015.6,34.25h4M1015.6,49.25h2.2M1015.6,64.25h4M1015.6,79.25h2.2M1015.6,94.25h4M1015.6,109.25h2.2M1015.6,124.25h4M1015.6,139.25h2.2M1015.6,154.25h4M1015.6,169.25h2.2M1015.6,184.25h4M1015.6,199.25h2.2M1015.6,214.25h4M1015.6,229.25h2.2M1015.6,244.25h4M1015.6,259.25h2.2M1015.6,274.25h4M1015.6,289.25h2.2M1020.97,290.3v-2.6M1026.20,290.3v-2.6M1030.73,290.3v-2.6M1034.73,290.3v-2.6M1038.30,290.3v-4.8M1061.81,290.3v-2.6M1075.56,290.3v-2.6M1085.32,290.3v-2.6M1092.89,290.3v-2.6M1099.07,290.3v-2.6M1104.30,290.3v-2.6M1108.83,290.3v-2.6M1112.83,290.3v-2.6M1116.40,290.3v-4.8M1139.91,290.3v-2.6M1153.66,290.3v-2.6M1163.42,290.3v-2.6M1170.99,290.3v-2.6M1177.17,290.3v-2.6M1182.40,290.3v-2.6M1186.93,290.3v-2.6M1190.93,290.3v-2.6M1194.50,290.3v-4.8M1218.01,290.3v-2.6M1231.76,290.3v-2.6M1241.52,290.3v-2.6M1249.09,290.3v-2.6M1255.27,290.3v-2.6M1260.50,290.3v-2.6M1265.03,290.3v-2.6M1269.03,290.3v-2.6M1272.60,290.3v-4.8"/>
</g>
<text x="1009.5" y="40.0" font-size="24" text-anchor="end">2</text>
<text x="1009.5" y="70.0" font-size="24" text-anchor="end">1</text>
<text x="1009.5" y="100.0" font-size="24" text-anchor="end">0</text>
<text x="1009.5" y="130.1" font-size="24" text-anchor="end">-1</text>
<text x="1009.5" y="160.1" font-size="24" text-anchor="end">-2</text>
<text x="1009.5" y="190.1" font-size="24" text-anchor="end">-3</text>
<text x="1009.5" y="220.1" font-size="24" text-anchor="end">-4</text>
<text x="1009.5" y="250.1" font-size="24" text-anchor="end">-5</text>
<text x="1009.5" y="280.1" font-size="24" text-anchor="end">-6</text>
<text><tspan x="1022.3" y="317.7" font-size="23" textLength="24.5" lengthAdjust="spacingAndGlyphs">10</tspan><tspan x="1046.9" y="304.5" font-size="13">4</tspan></text>
<text><tspan x="1100.4" y="317.7" font-size="23" textLength="24.5" lengthAdjust="spacingAndGlyphs">10</tspan><tspan x="1125.0" y="304.5" font-size="13">5</tspan></text>
<text><tspan x="1178.5" y="317.7" font-size="23" textLength="24.5" lengthAdjust="spacingAndGlyphs">10</tspan><tspan x="1203.1" y="304.5" font-size="13">6</tspan></text>
<text><tspan x="1256.6" y="317.7" font-size="23" textLength="24.5" lengthAdjust="spacingAndGlyphs">10</tspan><tspan x="1281.2" y="304.5" font-size="13">7</tspan></text>
<text x="975.3" y="161.3" font-size="22.5" text-anchor="middle" textLength="110" lengthAdjust="spacingAndGlyphs" transform="rotate(-90 975.3 161.3)">ln(-ln(1-F))</text>
<text x="1070.3" y="339.6" font-size="21.5" textLength="157.5" lengthAdjust="spacingAndGlyphs">Resistance (<tspan class="sf" font-size="21">&#937;</tspan>)</text>
<text x="1022" y="38.8" font-size="21" textLength="122.5" lengthAdjust="spacingAndGlyphs">Forming @RT</text>
<text x="1196.5" y="99.3" font-size="24" textLength="75" lengthAdjust="spacingAndGlyphs" transform="rotate(-9.5 1196.5 99.3)">tail bits</text>
<text x="1173" y="135.8" font-size="20.3" textLength="82" lengthAdjust="spacingAndGlyphs">Ron after</text>
<rect x="1171" y="155.7" width="22.8" height="3.6" fill="#000"/>
<text x="1205.5" y="161.8" font-size="20" textLength="25.5" lengthAdjust="spacingAndGlyphs">0 s</text>
<rect x="1171" y="180.7" width="22.8" height="3.6" fill="#ff0000"/>
<text x="1204.5" y="186.8" font-size="20" textLength="51.5" lengthAdjust="spacingAndGlyphs">10 ms</text>
<rect x="1171" y="207.0" width="22.8" height="3.6" fill="#0000ff"/>
<text x="1204.5" y="213.1" font-size="20" textLength="63.5" lengthAdjust="spacingAndGlyphs">100 ms</text>
<rect x="1171" y="231.5" width="22.8" height="3.6" fill="#00688b"/>
<text x="1205.5" y="237.6" font-size="20" textLength="22.5" lengthAdjust="spacingAndGlyphs">1 s</text>
<text x="1051" y="229.6" font-size="18" textLength="66.5" lengthAdjust="spacingAndGlyphs">Criterion</text>
<text x="1042.5" y="250.6" font-size="18" textLength="82.5" lengthAdjust="spacingAndGlyphs">resistance</text>
<text x="1176" y="274" font-size="22.5" font-style="italic" textLength="94" lengthAdjust="spacingAndGlyphs">1Kb cells</text>
<rect x="1172.5" y="277.3" width="95.5" height="1.7" fill="#000"/>
</g>
<g id="dist-bot">
<g stroke-linejoin="round" stroke-linecap="butt">
<path d="M1058.0,612.0 L1059.0,590.0 L1060.2,566.0 L1061.4,553.0 L1063.0,541.0 L1064.4,528.0 L1065.9,516.0 L1066.9,497.0 L1068.6,478.0 L1068.7,460.5 L1070.5,454.0 L1072.4,448.0 L1076.2,440.5 L1079.7,435.0 L1083.7,430.5 L1087.2,427.0 L1091.2,424.2 L1099.7,421.6 L1109.7,419.4 L1117.2,417.0 L1124.5,412.8 L1131.5,411.4 L1139.5,409.7 L1142.5,407.5 L1144.8,404.5 L1146.4,403.0 L1147.8,399.0 L1148.7,392.0 L1149.4,384.0" fill="none" stroke="#000" stroke-width="4.4" />
<path d="M1055.2,612.0 L1056.2,590.0 L1057.5,566.0 L1059.2,553.0 L1061.2,541.0 L1063.0,528.0 L1065.0,516.0 L1066.5,497.0 L1068.2,478.0 L1070.0,461.5 L1071.8,455.0 L1073.7,449.0 L1077.5,441.5 L1081.0,436.0 L1085.0,431.5 L1088.5,428.0 L1092.5,425.2 L1100.0,422.4 L1110.0,420.2 L1117.5,417.8 L1125.0,414.8 L1132.0,413.4 L1140.0,411.7 L1143.0,409.5 L1145.3,406.5 L1147.0,403.0 L1148.4,399.0 L1149.3,392.0 L1150.0,384.0" fill="none" stroke="#ff0000" stroke-width="4.6" />
</g>
<line x1="1151.6" y1="367" x2="1151.6" y2="612.2" stroke="#000" stroke-width="2.6" stroke-dasharray="7.2 2.8"/>
<line x1="1151.8" y1="611.5" x2="1163.5" y2="596" stroke="#000" stroke-width="3"/>
<path d="M1168.7,589.2 L1166.6,600.7 L1159.6,595.3 Z" fill="#000"/>
<g stroke="#000" fill="none" >
<rect x="1021.6" y="362.4" width="276.9" height="249.8" stroke-width="1.25"/>
<path stroke-width="1" d="M1021.6,370.10h2.2M1021.6,383.10h4M1021.6,396.10h2.2M1021.6,409.10h4M1021.6,422.10h2.2M1021.6,435.10h4M1021.6,448.10h2.2M1021.6,461.10h4M1021.6,474.10h2.2M1021.6,487.10h4M1021.6,500.10h2.2M1021.6,513.10h4M1021.6,526.10h2.2M1021.6,539.10h4M1021.6,552.10h2.2M1021.6,565.10h4M1021.6,578.10h2.2M1021.6,591.10h4M1021.6,604.10h2.2M1029.12,612.2v-2.6M1035.81,612.2v-2.6M1041.61,612.2v-2.6M1046.72,612.2v-2.6M1051.30,612.2v-4.8M1081.40,612.2v-2.6M1099.01,612.2v-2.6M1111.51,612.2v-2.6M1121.20,612.2v-2.6M1129.12,612.2v-2.6M1135.81,612.2v-2.6M1141.61,612.2v-2.6M1146.72,612.2v-2.6M1151.30,612.2v-4.8M1181.40,612.2v-2.6M1199.01,612.2v-2.6M1211.51,612.2v-2.6M1221.20,612.2v-2.6M1229.12,612.2v-2.6M1235.81,612.2v-2.6M1241.61,612.2v-2.6M1246.72,612.2v-2.6M1251.30,612.2v-4.8M1281.40,612.2v-2.6"/>
</g>
<text x="1015.6" y="390.0" font-size="24" text-anchor="end">2</text>
<text x="1015.6" y="416.0" font-size="24" text-anchor="end">1</text>
<text x="1015.6" y="442.0" font-size="24" text-anchor="end">0</text>
<text x="1015.6" y="468.0" font-size="24" text-anchor="end">-1</text>
<text x="1015.6" y="494.0" font-size="24" text-anchor="end">-2</text>
<text x="1015.6" y="520.0" font-size="24" text-anchor="end">-3</text>
<text x="1015.6" y="546.0" font-size="24" text-anchor="end">-4</text>
<text x="1015.6" y="572.0" font-size="24" text-anchor="end">-5</text>
<text x="1015.6" y="598.0" font-size="24" text-anchor="end">-6</text>
<text><tspan x="1035.5" y="639.9" font-size="23" textLength="24.5" lengthAdjust="spacingAndGlyphs">10</tspan><tspan x="1060.2" y="626.6" font-size="13">4</tspan></text>
<text><tspan x="1135.5" y="639.9" font-size="23" textLength="24.5" lengthAdjust="spacingAndGlyphs">10</tspan><tspan x="1160.2" y="626.6" font-size="13">5</tspan></text>
<text><tspan x="1235.5" y="639.9" font-size="23" textLength="24.5" lengthAdjust="spacingAndGlyphs">10</tspan><tspan x="1260.2" y="626.6" font-size="13">6</tspan></text>
<text x="972.3" y="495.6" font-size="23" text-anchor="middle" textLength="116" lengthAdjust="spacingAndGlyphs" transform="rotate(-90 972.3 495.6)">ln(-ln(1-F))</text>
<text x="1075.3" y="665.3" font-size="21.5" textLength="154" lengthAdjust="spacingAndGlyphs">Resistance (<tspan class="sf" font-size="21">&#937;</tspan>)</text>
<text x="1025" y="384.2" font-size="23.5" textLength="167" lengthAdjust="spacingAndGlyphs">Read @ RT, 0.3V</text>
<text x="1130.5" y="464" font-size="22" textLength="161.5" lengthAdjust="spacingAndGlyphs">Forming @ 125C</text>
<rect x="1182.3" y="495.6" width="23.5" height="3.7" fill="#000"/>
<text x="1214.6" y="504.4" font-size="21.5" textLength="27.6" lengthAdjust="spacingAndGlyphs">0 s</text>
<rect x="1181" y="522.2" width="24" height="3.6" fill="#ff0000"/>
<text x="1213" y="531.6" font-size="22.5" textLength="60.8" lengthAdjust="spacingAndGlyphs">10 min</text>
<text x="1182.5" y="571" font-size="18.5" textLength="71" lengthAdjust="spacingAndGlyphs">Criterion</text>
<text x="1174" y="596" font-size="18.5" textLength="87" lengthAdjust="spacingAndGlyphs">resistance</text>
</g>
<g id="maps" shape-rendering="crispEdges">
<rect x="71.4" y="422.0" width="199.6" height="178.0" fill="#00008f"/>
<path d="M80.4,430.0h3.4v8.2h-3.4zM97.4,430.0h3.4v8.2h-3.4zM134.9,430.0h6.8v8.2h-6.8zM145.1,430.0h27.2v8.2h-27.2zM179.2,430.0h6.8v8.2h-6.8zM206.4,430.0h6.8v8.2h-6.8zM216.7,430.0h3.4v8.2h-3.4zM230.3,430.0h6.8v8.2h-6.8zM240.5,430.0h3.4v8.2h-3.4zM247.3,430.0h3.4v8.2h-3.4zM80.4,438.1h6.8v8.2h-6.8zM134.9,438.1h13.6v8.2h-13.6zM151.9,438.1h30.7v8.2h-30.7zM196.2,438.1h3.4v8.2h-3.4zM213.3,438.1h3.4v8.2h-3.4zM223.5,438.1h3.4v8.2h-3.4zM230.3,438.1h13.6v8.2h-13.6zM267.8,438.1h3.2v8.2h-3.2zM83.8,446.2h3.4v8.2h-3.4zM138.3,446.2h3.4v8.2h-3.4zM145.1,446.2h17.0v8.2h-17.0zM165.6,446.2h17.0v8.2h-17.0zM186.0,446.2h3.4v8.2h-3.4zM192.8,446.2h3.4v8.2h-3.4zM237.1,446.2h3.4v8.2h-3.4zM243.9,446.2h6.8v8.2h-6.8zM71.4,454.3h2.2v8.2h-2.2zM104.3,454.3h3.4v8.2h-3.4zM131.5,454.3h61.3v8.2h-61.3zM216.7,454.3h6.8v8.2h-6.8zM237.1,454.3h3.4v8.2h-3.4zM77.0,462.4h3.4v8.2h-3.4zM83.8,462.4h10.2v8.2h-10.2zM97.4,462.4h3.4v8.2h-3.4zM121.3,462.4h3.4v8.2h-3.4zM128.1,462.4h3.4v8.2h-3.4zM134.9,462.4h34.1v8.2h-34.1zM172.4,462.4h13.6v8.2h-13.6zM189.4,462.4h3.4v8.2h-3.4zM206.4,462.4h3.4v8.2h-3.4zM216.7,462.4h3.4v8.2h-3.4zM237.1,462.4h13.6v8.2h-13.6zM264.4,462.4h6.6v8.2h-6.6zM83.8,470.5h3.4v8.2h-3.4zM107.7,470.5h6.8v8.2h-6.8zM121.3,470.5h10.2v8.2h-10.2zM134.9,470.5h57.9v8.2h-57.9zM230.3,470.5h3.4v8.2h-3.4zM237.1,470.5h10.2v8.2h-10.2zM80.4,478.6h6.8v8.2h-6.8zM90.6,478.6h3.4v8.2h-3.4zM117.9,478.6h3.4v8.2h-3.4zM124.7,478.6h3.4v8.2h-3.4zM131.5,478.6h54.5v8.2h-54.5zM189.4,478.6h3.4v8.2h-3.4zM209.9,478.6h3.4v8.2h-3.4zM216.7,478.6h3.4v8.2h-3.4zM233.7,478.6h3.4v8.2h-3.4zM240.5,478.6h6.8v8.2h-6.8zM264.4,478.6h3.4v8.2h-3.4zM107.7,486.7h6.8v8.2h-6.8zM121.3,486.7h6.8v8.2h-6.8zM131.5,486.7h3.4v8.2h-3.4zM138.3,486.7h34.1v8.2h-34.1zM175.8,486.7h3.4v8.2h-3.4zM182.6,486.7h6.8v8.2h-6.8zM209.9,486.7h3.4v8.2h-3.4zM216.7,486.7h3.4v8.2h-3.4zM240.5,486.7h6.8v8.2h-6.8zM250.7,486.7h3.4v8.2h-3.4zM71.4,494.8h2.2v8.2h-2.2zM104.3,494.8h6.8v8.2h-6.8zM121.3,494.8h64.7v8.2h-64.7zM189.4,494.8h6.8v8.2h-6.8zM213.3,494.8h3.4v8.2h-3.4zM240.5,494.8h6.8v8.2h-6.8zM264.4,494.8h3.4v8.2h-3.4zM90.6,502.9h3.4v8.2h-3.4zM104.3,502.9h3.4v8.2h-3.4zM111.1,502.9h3.4v8.2h-3.4zM121.3,502.9h3.4v8.2h-3.4zM128.1,502.9h57.9v8.2h-57.9zM189.4,502.9h6.8v8.2h-6.8zM237.1,502.9h10.2v8.2h-10.2zM254.1,502.9h3.4v8.2h-3.4zM73.6,511.0h3.4v8.2h-3.4zM83.8,511.0h3.4v8.2h-3.4zM121.3,511.0h3.4v8.2h-3.4zM134.9,511.0h6.8v8.2h-6.8zM145.1,511.0h34.1v8.2h-34.1zM182.6,511.0h6.8v8.2h-6.8zM199.6,511.0h3.4v8.2h-3.4zM216.7,511.0h17.0v8.2h-17.0zM240.5,511.0h13.6v8.2h-13.6zM77.0,519.1h6.8v8.2h-6.8zM121.3,519.1h6.8v8.2h-6.8zM134.9,519.1h3.4v8.2h-3.4zM141.7,519.1h54.5v8.2h-54.5zM203.0,519.1h13.6v8.2h-13.6zM230.3,519.1h3.4v8.2h-3.4zM237.1,519.1h3.4v8.2h-3.4zM243.9,519.1h3.4v8.2h-3.4zM254.1,519.1h3.4v8.2h-3.4zM264.4,519.1h3.4v8.2h-3.4zM80.4,527.2h3.4v8.2h-3.4zM87.2,527.2h3.4v8.2h-3.4zM94.0,527.2h3.4v8.2h-3.4zM107.7,527.2h6.8v8.2h-6.8zM117.9,527.2h13.6v8.2h-13.6zM134.9,527.2h47.7v8.2h-47.7zM186.0,527.2h10.2v8.2h-10.2zM230.3,527.2h3.4v8.2h-3.4zM243.9,527.2h3.4v8.2h-3.4zM250.7,527.2h3.4v8.2h-3.4zM94.0,535.3h3.4v8.2h-3.4zM121.3,535.3h17.0v8.2h-17.0zM141.7,535.3h40.9v8.2h-40.9zM189.4,535.3h6.8v8.2h-6.8zM199.6,535.3h3.4v8.2h-3.4zM213.3,535.3h3.4v8.2h-3.4zM223.5,535.3h3.4v8.2h-3.4zM243.9,535.3h3.4v8.2h-3.4zM77.0,543.4h3.4v8.2h-3.4zM87.2,543.4h3.4v8.2h-3.4zM104.3,543.4h3.4v8.2h-3.4zM117.9,543.4h3.4v8.2h-3.4zM128.1,543.4h6.8v8.2h-6.8zM138.3,543.4h37.5v8.2h-37.5zM179.2,543.4h13.6v8.2h-13.6zM203.0,543.4h6.8v8.2h-6.8zM243.9,543.4h3.4v8.2h-3.4zM250.7,543.4h3.4v8.2h-3.4zM87.2,551.5h3.4v8.2h-3.4zM124.7,551.5h3.4v8.2h-3.4zM131.5,551.5h3.4v8.2h-3.4zM138.3,551.5h51.1v8.2h-51.1zM192.8,551.5h3.4v8.2h-3.4zM216.7,551.5h3.4v8.2h-3.4zM243.9,551.5h3.4v8.2h-3.4zM254.1,551.5h3.4v8.2h-3.4zM260.9,551.5h3.4v8.2h-3.4zM77.0,559.6h3.4v8.2h-3.4zM94.0,559.6h3.4v8.2h-3.4zM111.1,559.6h3.4v8.2h-3.4zM121.3,559.6h3.4v8.2h-3.4zM131.5,559.6h6.8v8.2h-6.8zM141.7,559.6h3.4v8.2h-3.4zM148.5,559.6h27.2v8.2h-27.2zM182.6,559.6h3.4v8.2h-3.4zM199.6,559.6h3.4v8.2h-3.4zM220.1,559.6h10.2v8.2h-10.2zM243.9,559.6h10.2v8.2h-10.2zM77.0,567.7h3.4v8.2h-3.4zM90.6,567.7h3.4v8.2h-3.4zM121.3,567.7h23.8v8.2h-23.8zM148.5,567.7h30.7v8.2h-30.7zM186.0,567.7h6.8v8.2h-6.8zM216.7,567.7h3.4v8.2h-3.4zM237.1,567.7h3.4v8.2h-3.4zM243.9,567.7h10.2v8.2h-10.2zM267.8,567.7h3.2v8.2h-3.2zM83.8,575.8h3.4v8.2h-3.4zM97.4,575.8h3.4v8.2h-3.4zM121.3,575.8h61.3v8.2h-61.3zM186.0,575.8h10.2v8.2h-10.2zM240.5,575.8h6.8v8.2h-6.8zM250.7,575.8h3.4v8.2h-3.4zM257.5,575.8h3.4v8.2h-3.4zM264.4,575.8h6.6v8.2h-6.6zM80.4,583.9h3.4v8.2h-3.4zM97.4,583.9h3.4v8.2h-3.4zM121.3,583.9h6.8v8.2h-6.8zM131.5,583.9h10.2v8.2h-10.2zM145.1,583.9h37.5v8.2h-37.5zM186.0,583.9h10.2v8.2h-10.2zM220.1,583.9h3.4v8.2h-3.4zM230.3,583.9h3.4v8.2h-3.4zM237.1,583.9h3.4v8.2h-3.4zM243.9,583.9h3.4v8.2h-3.4zM250.7,583.9h3.4v8.2h-3.4zM264.4,583.9h3.4v8.2h-3.4z" fill="#e00000"/>
<rect x="71.4" y="422.0" width="199.6" height="8" fill="#7f0000"/>
<rect x="71.4" y="592" width="199.6" height="8.3" fill="#7f0000"/>
<rect x="281.7" y="422.6" width="199.3" height="178.0" fill="#00008f"/>
<path d="M288.2,440.4h3.3v4.3h-3.3zM291.5,444.8h7.1v4.2h-7.1zM312.0,444.8h3.5v4.2h-3.5zM291.5,453.1h3.5v3.9h-3.5zM281.7,461.4h2.9v3.9h-2.9zM288.2,469.6h3.3v3.9h-3.3zM295.0,469.6h3.5v3.9h-3.5zM298.5,473.5h6.7v4.2h-6.7zM295.0,477.7h3.5v4.2h-3.5zM305.2,477.7h3.5v4.2h-3.5zM318.6,469.6h3.5v3.9h-3.5zM318.6,481.9h3.5v4.3h-3.5zM318.6,490.2h3.5v4.2h-3.5zM301.6,490.2h3.7v4.2h-3.7zM284.5,498.4h6.9v3.9h-6.9zM281.7,502.3h2.9v4.2h-2.9zM315.3,498.4h3.3v3.9h-3.3zM318.6,506.5h3.5v4.6h-3.5zM322.1,511.1h6.7v3.5h-6.7zM339.1,461.4h3.3v8.2h-3.3zM339.1,469.6h6.5v3.9h-6.5zM332.3,469.6h3.3v8.1h-3.3zM342.4,473.5h3.3v4.2h-3.3zM339.1,477.7h3.3v4.2h-3.3zM335.6,474.1h3.5v3.7h-3.5zM352.6,481.9h3.5v4.3h-3.5zM359.4,486.2h3.4v3.9h-3.4zM356.1,494.4h3.3v4.1h-3.3zM369.6,498.4h3.3v3.9h-3.3zM332.3,490.2h3.3v8.2h-3.3zM335.6,486.2h3.5v8.1h-3.5zM335.6,498.4h3.5v12.7h-3.5zM342.4,498.4h3.3v3.9h-3.3zM345.7,502.3h6.9v4.2h-6.9zM339.1,514.6h3.3v3.4h-3.3zM376.2,514.6h1.8v3.4h-1.8zM450.6,436.1h3.5v4.3h-3.5zM444.1,440.4h3.3v4.3h-3.3zM420.1,444.8h10.2v4.2h-10.2zM434.0,444.8h6.5v4.2h-6.5zM396.3,448.9h3.7v4.2h-3.7zM389.5,453.1h3.5v8.2h-3.5zM396.3,457.1h3.7v4.3h-3.7zM396.3,461.4h6.8v3.9h-6.8zM413.3,457.1h3.5v4.3h-3.5zM440.6,457.1h3.5v4.3h-3.5zM427.1,461.4h6.9v3.9h-6.9zM457.6,448.9h3.5v8.1h-3.5zM454.2,453.1h3.4v3.9h-3.4zM447.4,453.1h3.3v3.9h-3.3zM447.4,457.1h10.2v4.3h-10.2zM447.4,465.3h3.3v4.3h-3.3zM450.6,469.6h10.5v3.9h-10.5zM474.6,469.6h3.4v3.9h-3.4zM386.1,465.3h6.9v4.3h-6.9zM386.1,469.6h3.4v8.1h-3.4zM393.1,469.6h3.3v8.1h-3.3zM400.0,469.6h3.1v8.1h-3.1zM447.4,473.5h3.3v8.4h-3.3zM440.6,477.7h3.5v4.2h-3.5zM450.6,481.9h3.5v8.2h-3.5zM447.4,481.9h3.3v4.3h-3.3zM430.4,481.9h3.7v4.3h-3.7zM427.1,486.2h3.3v3.9h-3.3zM413.3,486.2h3.5v3.9h-3.5zM403.1,486.2h3.7v8.1h-3.7zM454.2,490.2h3.4v8.2h-3.4zM450.6,494.4h3.5v8.0h-3.5zM444.1,494.4h3.3v4.1h-3.3zM461.1,498.4h3.3v3.9h-3.3zM389.5,494.4h3.5v4.1h-3.5zM386.1,498.4h6.9v3.9h-6.9zM379.3,498.4h3.7v3.9h-3.7zM379.3,506.5h3.7v4.6h-3.7zM379.3,511.1h6.8v6.9h-6.8zM396.3,506.5h3.7v8.1h-3.7zM393.1,514.6h6.9v3.4h-6.9zM413.3,506.5h3.5v4.6h-3.5zM427.1,506.5h3.3v8.1h-3.3zM423.5,514.6h6.8v3.4h-6.8zM436.9,514.6h3.7v3.4h-3.7zM447.4,506.5h6.8v4.6h-6.8zM447.4,514.6h6.8v3.4h-6.8zM464.4,511.1h3.3v3.5h-3.3zM474.6,506.5h3.4v4.6h-3.4zM322.1,511.0h6.7v3.5h-6.7zM305.2,518.9h3.5v4.2h-3.5zM312.0,518.9h3.5v4.2h-3.5zM315.6,523.1h6.5v3.9h-6.5zM318.6,527.0h3.5v3.9h-3.5zM281.7,523.1h2.9v3.9h-2.9zM288.2,527.0h10.3v3.9h-10.3zM298.3,535.5h3.3v3.9h-3.3zM305.2,535.5h3.5v3.9h-3.5zM288.2,543.8h3.3v4.2h-3.3zM318.6,543.8h3.5v4.2h-3.5zM325.4,543.8h3.4v4.2h-3.4zM298.3,551.9h3.3v3.9h-3.3zM284.5,555.8h3.7v4.2h-3.7zM325.4,555.8h3.4v4.2h-3.4zM308.4,560.0h3.7v4.3h-3.7zM318.6,560.0h3.5v4.3h-3.5zM295.0,564.3h3.5v4.2h-3.5zM328.8,564.3h6.8v4.2h-6.8zM288.2,568.5h3.3v4.1h-3.3zM301.6,576.8h3.7v3.9h-3.7zM308.4,576.8h3.7v3.9h-3.7zM291.5,584.9h3.5v8.2h-3.5zM308.4,588.9h3.7v4.2h-3.7zM322.1,584.9h3.3v4.1h-3.3zM332.3,523.1h3.3v3.9h-3.3zM332.3,530.9h3.3v4.6h-3.3zM332.3,548.0h3.3v3.9h-3.3zM332.3,572.6h3.3v4.2h-3.3zM426.8,510.0h3.5v4.6h-3.5zM423.6,514.6h6.8v4.1h-6.8zM437.2,514.6h3.4v4.1h-3.4zM440.6,518.6h3.5v4.1h-3.5zM447.4,514.6h6.9v4.1h-6.9zM464.1,510.5h3.5v4.1h-3.5zM447.4,510.0h6.9v1.0h-6.9zM474.6,510.0h3.5v1.0h-3.5zM457.6,518.6h3.5v4.1h-3.5zM447.4,522.7h3.4v4.2h-3.4zM461.1,522.7h3.3v4.2h-3.3zM413.5,526.9h3.5v4.1h-3.5zM430.4,526.9h6.8v4.1h-6.8zM440.6,526.9h3.5v4.1h-3.5zM457.6,526.9h3.5v4.1h-3.5zM464.4,526.9h3.3v4.1h-3.3zM474.6,526.9h3.5v4.1h-3.5zM454.3,535.0h3.3v4.1h-3.3zM447.4,539.1h3.4v4.2h-3.4zM457.6,539.1h3.5v4.2h-3.5zM423.6,543.8h6.8v4.2h-6.8zM434.0,543.8h3.1v4.2h-3.1zM444.1,543.8h3.3v4.2h-3.3zM461.1,543.8h3.3v4.2h-3.3zM413.5,548.0h6.8v3.9h-6.8zM423.6,551.9h3.7v3.9h-3.7zM461.1,551.9h3.3v3.9h-3.3zM457.6,555.8h3.5v4.2h-3.5zM454.3,560.0h6.8v4.3h-6.8zM454.3,564.3h10.1v4.2h-10.1zM461.1,568.5h3.3v4.1h-3.3zM471.3,564.3h3.3v4.2h-3.3zM413.5,568.5h3.5v4.1h-3.5zM430.4,568.5h3.7v4.1h-3.7zM427.2,572.6h3.1v8.1h-3.1zM434.0,572.6h3.1v4.2h-3.1zM430.4,580.7h3.7v4.2h-3.7zM447.4,576.8h3.4v3.9h-3.4zM461.1,576.8h3.3v3.9h-3.3zM478.1,576.8h2.7v3.9h-2.7zM454.3,580.7h3.3v4.2h-3.3zM467.7,584.9h3.7v4.1h-3.7zM474.6,584.9h6.3v4.1h-6.3zM450.8,588.9h3.5v4.2h-3.5zM457.6,588.9h3.5v4.2h-3.5zM335.5,510.0h3.4v4.6h-3.4zM379.7,510.0h6.8v4.6h-6.8zM396.8,510.0h3.4v4.6h-3.4zM335.5,514.6h6.8v4.1h-6.8zM376.3,514.6h3.4v4.1h-3.4zM383.1,514.6h3.4v4.1h-3.4zM393.4,514.6h6.8v4.1h-6.8zM335.5,518.6h10.2v4.1h-10.2zM379.7,518.6h6.8v4.1h-6.8zM389.9,518.6h20.4v4.1h-20.4zM332.1,522.7h13.6v4.2h-13.6zM352.5,522.7h3.4v4.2h-3.4zM386.5,522.7h3.4v4.2h-3.4zM400.2,522.7h10.2v4.2h-10.2zM335.5,526.9h10.2v4.1h-10.2zM352.5,526.9h3.4v4.1h-3.4zM383.1,526.9h3.4v4.1h-3.4zM400.2,526.9h3.4v4.1h-3.4zM413.8,526.9h3.3v4.1h-3.3zM332.1,530.9h3.4v4.1h-3.4zM338.9,530.9h6.8v4.1h-6.8zM379.7,530.9h6.8v4.1h-6.8zM393.4,530.9h3.4v4.1h-3.4zM410.4,530.9h3.4v4.1h-3.4zM338.9,535.0h6.8v4.1h-6.8zM352.5,535.0h6.8v4.1h-6.8zM366.1,535.0h6.8v4.1h-6.8zM379.7,535.0h6.8v4.1h-6.8zM393.4,535.0h3.4v4.1h-3.4zM338.9,539.1h3.4v4.2h-3.4zM349.1,539.1h6.8v4.2h-6.8zM359.3,539.1h6.8v4.2h-6.8zM376.3,539.1h3.4v4.2h-3.4zM386.5,539.1h3.4v4.2h-3.4zM335.5,543.2h3.4v4.1h-3.4zM349.1,543.2h3.4v4.1h-3.4zM359.3,543.2h6.8v4.1h-6.8zM372.9,543.2h6.8v4.1h-6.8zM332.1,547.3h3.4v4.1h-3.4zM338.9,547.3h6.8v4.1h-6.8zM349.1,547.3h3.4v4.1h-3.4zM372.9,547.3h20.4v4.1h-20.4zM342.3,551.4h6.8v4.2h-6.8zM369.5,551.4h6.8v4.2h-6.8zM342.3,555.5h3.4v4.1h-3.4zM359.3,555.5h3.4v4.1h-3.4zM366.1,555.5h6.8v4.1h-6.8zM376.3,555.5h6.8v4.1h-6.8zM393.4,555.5h3.4v4.1h-3.4zM407.0,555.5h3.4v4.1h-3.4zM342.3,559.6h6.8v4.1h-6.8zM369.5,559.6h6.8v4.1h-6.8zM379.7,559.6h6.8v4.1h-6.8zM396.8,559.6h3.4v4.1h-3.4zM403.6,559.6h6.8v4.1h-6.8zM330.0,563.7h5.5v4.1h-5.5zM338.9,563.7h6.8v4.1h-6.8zM352.5,563.7h6.8v4.1h-6.8zM372.9,563.7h3.4v4.1h-3.4zM379.7,563.7h10.2v4.1h-10.2zM403.6,563.7h3.4v4.1h-3.4zM338.9,567.7h6.8v4.2h-6.8zM355.9,567.7h6.8v4.2h-6.8zM372.9,567.7h3.4v4.2h-3.4zM383.1,567.7h10.2v4.2h-10.2zM407.0,567.7h3.4v4.2h-3.4zM332.1,571.9h3.4v4.1h-3.4zM338.9,571.9h13.6v4.1h-13.6zM359.3,571.9h3.4v4.1h-3.4zM366.1,571.9h27.2v4.1h-27.2zM407.0,571.9h3.4v4.1h-3.4zM338.9,576.0h37.4v4.1h-37.4zM379.7,576.0h13.6v4.1h-13.6zM403.6,576.0h3.4v4.1h-3.4zM338.9,580.0h3.4v4.1h-3.4zM345.7,580.0h6.8v4.1h-6.8zM355.9,580.0h40.8v4.1h-40.8zM335.5,584.1h3.4v4.2h-3.4zM345.7,584.1h6.8v4.2h-6.8zM366.1,584.1h10.2v4.2h-10.2zM379.7,584.1h6.8v4.2h-6.8zM389.9,584.1h6.8v4.2h-6.8zM342.3,588.3h3.4v4.8h-3.4zM362.7,588.3h10.2v4.8h-10.2zM379.7,588.3h3.4v4.8h-3.4zM386.5,588.3h6.8v4.8h-6.8zM396.8,588.3h6.8v4.8h-6.8z" fill="#ffff00"/>
<path d="M376.3,555.5h3.4v4.1h-3.4zM372.9,563.7h3.4v4.1h-3.4zM376.3,567.7h3.4v4.2h-3.4zM383.1,567.7h3.4v4.2h-3.4zM376.3,576.0h3.4v4.1h-3.4zM386.5,584.1h3.4v4.2h-3.4zM359.3,580.0h3.4v4.1h-3.4z" fill="#00008f"/>
<rect x="281.7" y="422.6" width="199.3" height="9.2" fill="#7f0000"/>
<rect x="281.7" y="592.8" width="199.3" height="7.8" fill="#7f0000"/>
<rect x="514.8" y="421.2" width="199.8" height="179.4" fill="#00008f"/>
<path d="M534.1,429.4h3.4v8.2h-3.4zM540.9,429.4h3.4v8.2h-3.4zM554.5,429.4h3.4v8.2h-3.4zM561.3,429.4h3.4v8.2h-3.4zM568.2,429.4h3.4v8.2h-3.4zM581.8,429.4h13.6v8.2h-13.6zM602.2,429.4h3.4v8.2h-3.4zM612.5,429.4h10.2v8.2h-10.2zM626.1,429.4h13.6v8.2h-13.6zM650.0,429.4h3.4v8.2h-3.4zM656.8,429.4h3.4v8.2h-3.4zM667.0,429.4h3.4v8.2h-3.4zM690.9,429.4h3.4v8.2h-3.4zM704.5,429.4h3.4v8.2h-3.4zM520.4,437.5h3.4v8.2h-3.4zM527.2,437.5h3.4v8.2h-3.4zM534.1,437.5h3.4v8.2h-3.4zM540.9,437.5h3.4v8.2h-3.4zM561.3,437.5h23.9v8.2h-23.9zM588.6,437.5h40.9v8.2h-40.9zM632.9,437.5h6.8v8.2h-6.8zM650.0,437.5h3.4v8.2h-3.4zM673.8,437.5h3.4v8.2h-3.4zM680.7,437.5h20.5v8.2h-20.5zM704.5,437.5h6.8v8.2h-6.8zM523.8,445.6h6.8v8.2h-6.8zM534.1,445.6h3.4v8.2h-3.4zM540.9,445.6h3.4v8.2h-3.4zM547.7,445.6h3.4v8.2h-3.4zM554.5,445.6h10.2v8.2h-10.2zM568.2,445.6h17.0v8.2h-17.0zM588.6,445.6h20.5v8.2h-20.5zM612.5,445.6h3.4v8.2h-3.4zM619.3,445.6h27.3v8.2h-27.3zM650.0,445.6h3.4v8.2h-3.4zM656.8,445.6h3.4v8.2h-3.4zM670.4,445.6h13.6v8.2h-13.6zM690.9,445.6h3.4v8.2h-3.4zM701.1,445.6h6.8v8.2h-6.8zM711.4,445.6h3.2v8.2h-3.2zM530.6,453.7h3.4v8.2h-3.4zM540.9,453.7h3.4v8.2h-3.4zM551.1,453.7h6.8v8.2h-6.8zM561.3,453.7h13.6v8.2h-13.6zM581.8,453.7h3.4v8.2h-3.4zM592.0,453.7h17.0v8.2h-17.0zM612.5,453.7h3.4v8.2h-3.4zM619.3,453.7h34.1v8.2h-34.1zM670.4,453.7h6.8v8.2h-6.8zM684.1,453.7h10.2v8.2h-10.2zM701.1,453.7h3.4v8.2h-3.4zM707.9,453.7h3.4v8.2h-3.4zM520.4,461.9h3.4v8.2h-3.4zM527.2,461.9h3.4v8.2h-3.4zM534.1,461.9h10.2v8.2h-10.2zM551.1,461.9h10.2v8.2h-10.2zM571.6,461.9h61.4v8.2h-61.4zM636.3,461.9h6.8v8.2h-6.8zM646.6,461.9h3.4v8.2h-3.4zM660.2,461.9h3.4v8.2h-3.4zM667.0,461.9h3.4v8.2h-3.4zM687.5,461.9h3.4v8.2h-3.4zM697.7,461.9h6.8v8.2h-6.8zM514.8,470.0h2.2v8.2h-2.2zM530.6,470.0h6.8v8.2h-6.8zM540.9,470.0h10.2v8.2h-10.2zM561.3,470.0h17.0v8.2h-17.0zM581.8,470.0h6.8v8.2h-6.8zM592.0,470.0h54.6v8.2h-54.6zM660.2,470.0h3.4v8.2h-3.4zM670.4,470.0h6.8v8.2h-6.8zM680.7,470.0h10.2v8.2h-10.2zM697.7,470.0h16.9v8.2h-16.9zM514.8,478.1h2.2v8.2h-2.2zM530.6,478.1h10.2v8.2h-10.2zM544.3,478.1h3.4v8.2h-3.4zM561.3,478.1h3.4v8.2h-3.4zM571.6,478.1h3.4v8.2h-3.4zM578.4,478.1h37.5v8.2h-37.5zM619.3,478.1h20.5v8.2h-20.5zM656.8,478.1h3.4v8.2h-3.4zM670.4,478.1h10.2v8.2h-10.2zM697.7,478.1h3.4v8.2h-3.4zM707.9,478.1h3.4v8.2h-3.4zM523.8,486.2h3.4v8.2h-3.4zM534.1,486.2h3.4v8.2h-3.4zM540.9,486.2h3.4v8.2h-3.4zM551.1,486.2h3.4v8.2h-3.4zM561.3,486.2h3.4v8.2h-3.4zM568.2,486.2h6.8v8.2h-6.8zM578.4,486.2h13.6v8.2h-13.6zM595.4,486.2h51.1v8.2h-51.1zM653.4,486.2h6.8v8.2h-6.8zM673.8,486.2h10.2v8.2h-10.2zM697.7,486.2h10.2v8.2h-10.2zM517.0,494.3h3.4v8.2h-3.4zM530.6,494.3h6.8v8.2h-6.8zM544.3,494.3h13.6v8.2h-13.6zM561.3,494.3h13.6v8.2h-13.6zM578.4,494.3h6.8v8.2h-6.8zM588.6,494.3h58.0v8.2h-58.0zM653.4,494.3h3.4v8.2h-3.4zM670.4,494.3h3.4v8.2h-3.4zM677.3,494.3h3.4v8.2h-3.4zM684.1,494.3h6.8v8.2h-6.8zM697.7,494.3h10.2v8.2h-10.2zM520.4,502.4h13.6v8.2h-13.6zM537.5,502.4h10.2v8.2h-10.2zM561.3,502.4h3.4v8.2h-3.4zM568.2,502.4h3.4v8.2h-3.4zM575.0,502.4h3.4v8.2h-3.4zM581.8,502.4h54.6v8.2h-54.6zM639.8,502.4h13.6v8.2h-13.6zM667.0,502.4h3.4v8.2h-3.4zM684.1,502.4h10.2v8.2h-10.2zM697.7,502.4h3.4v8.2h-3.4zM707.9,502.4h3.4v8.2h-3.4zM514.8,510.6h5.6v8.2h-5.6zM530.6,510.6h3.4v8.2h-3.4zM557.9,510.6h6.8v8.2h-6.8zM568.2,510.6h17.0v8.2h-17.0zM588.6,510.6h10.2v8.2h-10.2zM602.2,510.6h40.9v8.2h-40.9zM646.6,510.6h10.2v8.2h-10.2zM667.0,510.6h23.9v8.2h-23.9zM694.3,510.6h3.4v8.2h-3.4zM701.1,510.6h6.8v8.2h-6.8zM530.6,518.7h3.4v8.2h-3.4zM537.5,518.7h10.2v8.2h-10.2zM551.1,518.7h3.4v8.2h-3.4zM561.3,518.7h10.2v8.2h-10.2zM575.0,518.7h6.8v8.2h-6.8zM585.2,518.7h27.3v8.2h-27.3zM615.9,518.7h27.3v8.2h-27.3zM650.0,518.7h3.4v8.2h-3.4zM663.6,518.7h3.4v8.2h-3.4zM673.8,518.7h3.4v8.2h-3.4zM684.1,518.7h6.8v8.2h-6.8zM694.3,518.7h3.4v8.2h-3.4zM527.2,526.8h13.6v8.2h-13.6zM544.3,526.8h3.4v8.2h-3.4zM557.9,526.8h10.2v8.2h-10.2zM571.6,526.8h6.8v8.2h-6.8zM581.8,526.8h13.6v8.2h-13.6zM602.2,526.8h37.5v8.2h-37.5zM650.0,526.8h3.4v8.2h-3.4zM663.6,526.8h3.4v8.2h-3.4zM673.8,526.8h6.8v8.2h-6.8zM687.5,526.8h6.8v8.2h-6.8zM704.5,526.8h3.4v8.2h-3.4zM517.0,534.9h3.4v8.2h-3.4zM523.8,534.9h6.8v8.2h-6.8zM537.5,534.9h3.4v8.2h-3.4zM544.3,534.9h3.4v8.2h-3.4zM551.1,534.9h6.8v8.2h-6.8zM561.3,534.9h20.5v8.2h-20.5zM585.2,534.9h17.0v8.2h-17.0zM605.7,534.9h3.4v8.2h-3.4zM612.5,534.9h13.6v8.2h-13.6zM629.5,534.9h13.6v8.2h-13.6zM650.0,534.9h6.8v8.2h-6.8zM660.2,534.9h3.4v8.2h-3.4zM673.8,534.9h3.4v8.2h-3.4zM684.1,534.9h10.2v8.2h-10.2zM523.8,543.0h10.2v8.2h-10.2zM561.3,543.0h17.0v8.2h-17.0zM581.8,543.0h17.0v8.2h-17.0zM605.7,543.0h37.5v8.2h-37.5zM650.0,543.0h17.0v8.2h-17.0zM673.8,543.0h6.8v8.2h-6.8zM707.9,543.0h3.4v8.2h-3.4zM520.4,551.1h3.4v8.2h-3.4zM527.2,551.1h6.8v8.2h-6.8zM540.9,551.1h3.4v8.2h-3.4zM554.5,551.1h3.4v8.2h-3.4zM561.3,551.1h3.4v8.2h-3.4zM575.0,551.1h17.0v8.2h-17.0zM598.8,551.1h13.6v8.2h-13.6zM615.9,551.1h13.6v8.2h-13.6zM636.3,551.1h6.8v8.2h-6.8zM650.0,551.1h3.4v8.2h-3.4zM656.8,551.1h3.4v8.2h-3.4zM663.6,551.1h6.8v8.2h-6.8zM680.7,551.1h3.4v8.2h-3.4zM707.9,551.1h6.7v8.2h-6.7zM520.4,559.2h10.2v8.2h-10.2zM544.3,559.2h3.4v8.2h-3.4zM551.1,559.2h3.4v8.2h-3.4zM561.3,559.2h6.8v8.2h-6.8zM575.0,559.2h58.0v8.2h-58.0zM639.8,559.2h23.9v8.2h-23.9zM673.8,559.2h6.8v8.2h-6.8zM687.5,559.2h6.8v8.2h-6.8zM523.8,567.4h6.8v8.2h-6.8zM537.5,567.4h3.4v8.2h-3.4zM554.5,567.4h81.8v8.2h-81.8zM639.8,567.4h10.2v8.2h-10.2zM656.8,567.4h3.4v8.2h-3.4zM667.0,567.4h13.6v8.2h-13.6zM687.5,567.4h10.2v8.2h-10.2zM523.8,575.5h3.4v8.2h-3.4zM544.3,575.5h3.4v8.2h-3.4zM554.5,575.5h37.5v8.2h-37.5zM595.4,575.5h6.8v8.2h-6.8zM609.1,575.5h17.0v8.2h-17.0zM629.5,575.5h6.8v8.2h-6.8zM639.8,575.5h3.4v8.2h-3.4zM656.8,575.5h10.2v8.2h-10.2zM673.8,575.5h3.4v8.2h-3.4zM684.1,575.5h3.4v8.2h-3.4zM690.9,575.5h3.4v8.2h-3.4zM697.7,575.5h3.4v8.2h-3.4zM523.8,583.6h3.4v8.2h-3.4zM537.5,583.6h3.4v8.2h-3.4zM547.7,583.6h3.4v8.2h-3.4zM561.3,583.6h10.2v8.2h-10.2zM575.0,583.6h23.9v8.2h-23.9zM605.7,583.6h17.0v8.2h-17.0zM626.1,583.6h6.8v8.2h-6.8zM636.3,583.6h3.4v8.2h-3.4zM656.8,583.6h3.4v8.2h-3.4zM670.4,583.6h6.8v8.2h-6.8zM690.9,583.6h6.8v8.2h-6.8zM701.1,583.6h3.4v8.2h-3.4zM707.9,583.6h3.4v8.2h-3.4z" fill="#e00000"/>
<rect x="514.8" y="421.2" width="199.8" height="8.2" fill="#7f0000"/>
<rect x="514.8" y="591.7" width="199.8" height="8.9" fill="#7f0000"/>
<rect x="725.6" y="420.0" width="199.2" height="179.5" fill="#00008f"/>
<path d="M745.6,491.3h3.5v4.4h-3.5zM742.1,495.7h7.0v7.9h-7.0zM742.1,503.6h3.5v4.4h-3.5zM769.1,508.4h7.0v3.8h-7.0zM769.1,512.3h3.5v4.0h-3.5zM772.6,516.3h3.5v4.2h-3.5zM749.1,520.7h3.5v4.4h-3.5zM769.1,528.9h3.5v8.4h-3.5zM792.7,541.4h3.5v4.5h-3.5zM732.1,533.2h3.1v4.4h-3.1zM725.8,537.6h9.4v8.4h-9.4zM725.8,546.0h6.3v3.8h-6.3zM729.0,549.8h6.3v4.4h-6.3zM729.0,554.2h3.1v4.4h-3.1zM725.8,558.5h3.1v3.8h-3.1zM732.1,558.5h9.9v3.8h-9.9zM738.6,562.4h3.5v4.4h-3.5zM742.1,566.7h3.5v4.0h-3.5zM766.0,549.8h3.1v4.4h-3.1zM766.0,566.7h3.1v4.0h-3.1zM725.8,570.8h3.1v4.4h-3.1zM725.8,575.1h6.3v4.0h-6.3zM732.1,579.1h3.1v4.2h-3.1zM738.6,575.1h3.5v4.0h-3.5zM729.0,583.3h3.1v4.2h-3.1zM735.3,583.3h6.8v4.2h-6.8zM779.2,554.2h3.5v4.4h-3.5zM779.2,558.5h6.5v3.8h-6.5zM776.1,562.4h6.6v4.4h-6.6zM776.1,566.7h9.6v4.0h-9.6zM776.1,570.8h6.6v4.4h-6.6zM779.2,575.1h6.5v4.0h-6.5zM772.6,579.1h6.6v4.2h-6.6zM779.2,583.3h3.5v8.0h-3.5zM789.2,575.1h3.5v4.0h-3.5zM917.9,483.1h4.4v4.2h-4.4zM907.9,487.3h3.3v4.0h-3.3zM914.7,491.3h7.5v4.0h-7.5zM904.4,499.7h3.5v4.4h-3.5zM900.9,504.1h10.3v4.2h-10.3zM890.8,504.1h3.5v4.2h-3.5zM900.9,508.3h10.3v4.0h-10.3zM890.8,512.3h3.5v4.0h-3.5zM897.8,512.3h16.9v4.0h-16.9zM900.9,516.3h10.3v8.6h-10.3zM904.4,524.9h10.3v4.0h-10.3zM907.9,528.9h3.3v4.0h-3.3zM883.8,541.4h4.0v4.5h-4.0zM904.4,546.0h6.8v3.8h-6.8zM911.2,554.2h3.5v4.4h-3.5zM911.2,562.4h3.5v8.4h-3.5zM867.3,549.8h3.5v4.4h-3.5zM864.1,554.2h10.1v4.4h-10.1zM870.8,558.5h3.5v3.8h-3.5zM867.3,562.4h3.5v4.4h-3.5zM870.8,566.7h3.5v4.0h-3.5zM864.1,570.8h6.6v4.4h-6.6zM874.2,570.8h3.5v4.4h-3.5zM870.8,575.1h3.5v4.0h-3.5zM883.8,562.4h4.0v4.4h-4.0zM890.8,570.8h3.5v4.4h-3.5zM880.9,575.1h3.0v12.4h-3.0zM887.9,579.1h3.0v4.2h-3.0zM904.4,579.1h3.5v4.2h-3.5zM860.8,579.1h3.3v4.2h-3.3zM864.1,583.3h3.1v4.2h-3.1z" fill="#ffff00"/>
<rect x="725.6" y="420.0" width="199.2" height="8.4" fill="#7f0000"/>
<rect x="725.6" y="591.2" width="199.2" height="8.3" fill="#7f0000"/>
</g>
<line x1="121.4" y1="431" x2="121.4" y2="592" stroke="#fff" stroke-width="1.9" stroke-dasharray="5.8 2.3"/>
<line x1="197.8" y1="431" x2="197.8" y2="592" stroke="#fff" stroke-width="1.9" stroke-dasharray="5.8 2.3"/>
<line x1="336.9" y1="432.8" x2="336.9" y2="592.8" stroke="#fff" stroke-width="1.9" stroke-dasharray="5.8 2.3"/>
<line x1="411.8" y1="432.8" x2="411.8" y2="592.8" stroke="#fff" stroke-width="1.9" stroke-dasharray="5.8 2.3"/>
<line x1="562.2" y1="430.4" x2="562.2" y2="591.7" stroke="#fff" stroke-width="1.9" stroke-dasharray="5.8 2.3"/>
<line x1="642.6" y1="430.4" x2="642.6" y2="591.7" stroke="#fff" stroke-width="1.9" stroke-dasharray="5.8 2.3"/>
<line x1="786.0" y1="429.4" x2="786.0" y2="591.2" stroke="#fff" stroke-width="1.9" stroke-dasharray="5.8 2.3"/>
<line x1="863.7" y1="429.4" x2="863.7" y2="591.2" stroke="#fff" stroke-width="1.9" stroke-dasharray="5.8 2.3"/>
<text x="126.2" y="585" font-size="17" fill="#fff" textLength="65.5" lengthAdjust="spacingAndGlyphs">Faliment</text>
<text x="569.3" y="576.3" font-size="17" fill="#fff" textLength="65.8" lengthAdjust="spacingAndGlyphs">Faliment</text>
<g id="misc">
<rect x="74.5" y="359" width="160" height="32" fill="#fff" stroke="#3a3a3a" stroke-width="1"/>
<text x="78.8" y="381.8" font-size="22" textLength="152.5" lengthAdjust="spacingAndGlyphs">300K , 2.5V , 1us</text>
<rect x="516.5" y="360.7" width="170.5" height="33.6" fill="#fff" stroke="#3a3a3a" stroke-width="1"/>
<text x="520.5" y="385" font-size="22" textLength="153.2" lengthAdjust="spacingAndGlyphs">400K , 1.8V , 1us</text>
<text x="72.5" y="414.5" font-size="21.5" textLength="119.5" lengthAdjust="spacingAndGlyphs">Vo distribution</text>
<text x="517" y="415" font-size="21.5" textLength="120" lengthAdjust="spacingAndGlyphs">Vo distribution</text>
<text xml:space="preserve"><tspan x="288.0" y="410.4" font-size="21.5" textLength="13.6" lengthAdjust="spacingAndGlyphs">O</tspan><tspan x="303.6" y="403.2" font-size="12.5" textLength="9.8" lengthAdjust="spacingAndGlyphs">2-</tspan><tspan x="312.9" y="410.4" font-size="21.5" textLength="98.8" lengthAdjust="spacingAndGlyphs"> distribution</tspan></text>
<text xml:space="preserve"><tspan x="728.8" y="414.3" font-size="21.5" textLength="13.6" lengthAdjust="spacingAndGlyphs">O</tspan><tspan x="744.4" y="407.1" font-size="12.5" textLength="9.8" lengthAdjust="spacingAndGlyphs">2-</tspan><tspan x="753.7" y="414.3" font-size="21.5" textLength="98.8" lengthAdjust="spacingAndGlyphs"> distribution</tspan></text>
<rect x="71.3" y="616.3" width="30" height="26.8" fill="#00008f"/>
<text x="108.8" y="637" font-size="20" textLength="46.2" lengthAdjust="spacingAndGlyphs">TaOx</text>
<rect x="173.3" y="616.3" width="30.5" height="26.8" fill="#e00000"/>
<text x="213" y="637" font-size="20" textLength="23.2" lengthAdjust="spacingAndGlyphs">Vo</text>
<rect x="255.5" y="616.8" width="30" height="26.2" fill="#ffff00" stroke="#4a4a30" stroke-width="1"/>
<text><tspan x="293.6" y="637" font-size="20">O</tspan><tspan x="310" y="629.7" font-size="12.5" textLength="10" lengthAdjust="spacingAndGlyphs">2-</tspan></text>
<text x="463" y="663.2" font-size="29.5" fill="#ff0000" class="sf" font-weight="bold" textLength="344.5" lengthAdjust="spacingAndGlyphs">X. Xu, et al., IEDM (2018).</text>
</g>
</svg>
</body></html>
